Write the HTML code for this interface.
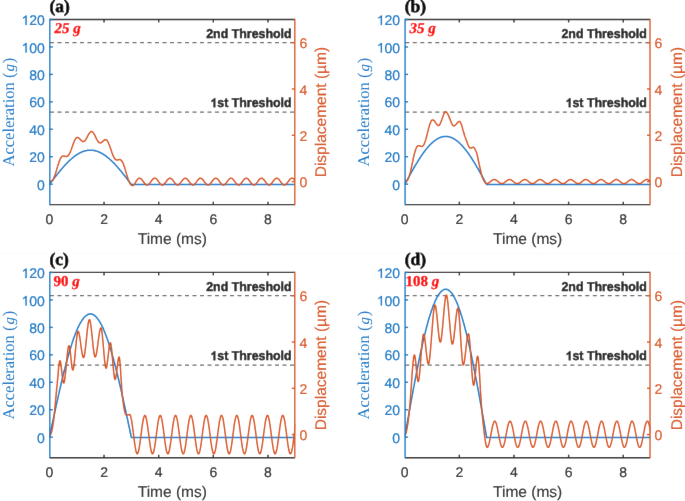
<!DOCTYPE html>
<html><head><meta charset="utf-8"><style>
html,body{margin:0;padding:0;background:#fff;}
svg{display:block;will-change:transform;}
text{text-rendering:geometricPrecision;}
.tk{font-family:"Liberation Sans",sans-serif;font-size:14px;}
.xl{font-family:"Liberation Sans",sans-serif;font-size:15.5px;}
.yl{font-family:"Liberation Serif",serif;font-size:16.5px;}
.th{font-family:"Liberation Sans",sans-serif;font-size:12.4px;font-weight:bold;fill:#262626;}
.am{font-family:"Liberation Serif",serif;font-size:15px;font-weight:bold;fill:#ff0000;}
.pl{font-family:"Liberation Serif",serif;font-size:17.5px;font-weight:bold;fill:#000;}
</style></head><body>
<svg width="685" height="501" viewBox="0 0 685 501">
<defs><filter id="bl" x="0" y="0" width="100%" height="100%" filterUnits="userSpaceOnUse"><feConvolveMatrix order="3" kernelMatrix="0.0028 0.0470 0.0028 0.0470 0.8008 0.0470 0.0028 0.0470 0.0028" edgeMode="duplicate"/></filter></defs>
<g filter="url(#bl)">
<rect width="685" height="501" fill="#fff"/>
<line x1="0" y1="253.5" x2="685" y2="253.5" stroke="#fafafa" stroke-width="1"/>
<g>
<clipPath id="clip00"><rect x="49.4" y="19.5" width="245.87999999999997" height="185.25"/></clipPath>
<line x1="50.00" y1="42.66" x2="294.80" y2="42.66" stroke="#6b6b6b" stroke-width="1.2" stroke-dasharray="4.0 3.5"/>
<line x1="50.00" y1="112.12" x2="294.80" y2="112.12" stroke="#6b6b6b" stroke-width="1.2" stroke-dasharray="4.0 3.5"/>
<polyline clip-path="url(#clip00)" points="49.4,184.5 49.7,184.0 50.1,183.6 50.4,183.1 50.8,182.7 51.1,182.2 51.4,181.8 51.8,181.3 52.1,180.9 52.5,180.4 52.8,180.0 53.2,179.5 53.5,179.1 53.8,178.7 54.2,178.2 54.5,177.8 54.9,177.3 55.2,176.9 55.5,176.5 55.9,176.0 56.2,175.6 56.6,175.2 56.9,174.7 57.3,174.3 57.6,173.9 57.9,173.4 58.3,173.0 58.6,172.6 59.0,172.2 59.3,171.8 59.6,171.3 60.0,170.9 60.3,170.5 60.7,170.1 61.0,169.7 61.4,169.3 61.7,168.9 62.0,168.5 62.4,168.1 62.7,167.7 63.1,167.3 63.4,166.9 63.7,166.5 64.1,166.2 64.4,165.8 64.8,165.4 65.1,165.0 65.5,164.7 65.8,164.3 66.1,163.9 66.5,163.6 66.8,163.2 67.2,162.9 67.5,162.5 67.8,162.2 68.2,161.8 68.5,161.5 68.9,161.2 69.2,160.9 69.5,160.5 69.9,160.2 70.2,159.9 70.6,159.6 70.9,159.3 71.3,159.0 71.6,158.7 71.9,158.4 72.3,158.1 72.6,157.8 73.0,157.5 73.3,157.3 73.6,157.0 74.0,156.7 74.3,156.5 74.7,156.2 75.0,155.9 75.4,155.7 75.7,155.5 76.0,155.2 76.4,155.0 76.7,154.8 77.1,154.5 77.4,154.3 77.7,154.1 78.1,153.9 78.4,153.7 78.8,153.5 79.1,153.3 79.5,153.1 79.8,152.9 80.1,152.8 80.5,152.6 80.8,152.4 81.2,152.3 81.5,152.1 81.8,152.0 82.2,151.8 82.5,151.7 82.9,151.6 83.2,151.4 83.5,151.3 83.9,151.2 84.2,151.1 84.6,151.0 84.9,150.9 85.3,150.8 85.6,150.7 85.9,150.7 86.3,150.6 86.6,150.5 87.0,150.5 87.3,150.4 87.6,150.3 88.0,150.3 88.3,150.3 88.7,150.2 89.0,150.2 89.4,150.2 89.7,150.2 90.0,150.2 90.4,150.2 90.7,150.2 91.1,150.2 91.4,150.2 91.7,150.2 92.1,150.2 92.4,150.3 92.8,150.3 93.1,150.3 93.5,150.4 93.8,150.5 94.1,150.5 94.5,150.6 94.8,150.7 95.2,150.7 95.5,150.8 95.8,150.9 96.2,151.0 96.5,151.1 96.9,151.2 97.2,151.3 97.6,151.4 97.9,151.6 98.2,151.7 98.6,151.8 98.9,152.0 99.3,152.1 99.6,152.3 99.9,152.4 100.3,152.6 100.6,152.8 101.0,152.9 101.3,153.1 101.6,153.3 102.0,153.5 102.3,153.7 102.7,153.9 103.0,154.1 103.4,154.3 103.7,154.5 104.0,154.8 104.4,155.0 104.7,155.2 105.1,155.5 105.4,155.7 105.7,155.9 106.1,156.2 106.4,156.5 106.8,156.7 107.1,157.0 107.5,157.3 107.8,157.5 108.1,157.8 108.5,158.1 108.8,158.4 109.2,158.7 109.5,159.0 109.8,159.3 110.2,159.6 110.5,159.9 110.9,160.2 111.2,160.5 111.6,160.9 111.9,161.2 112.2,161.5 112.6,161.8 112.9,162.2 113.3,162.5 113.6,162.9 113.9,163.2 114.3,163.6 114.6,163.9 115.0,164.3 115.3,164.7 115.7,165.0 116.0,165.4 116.3,165.8 116.7,166.2 117.0,166.5 117.4,166.9 117.7,167.3 118.0,167.7 118.4,168.1 118.7,168.5 119.1,168.9 119.4,169.3 119.7,169.7 120.1,170.1 120.4,170.5 120.8,170.9 121.1,171.3 121.5,171.8 121.8,172.2 122.1,172.6 122.5,173.0 122.8,173.4 123.2,173.9 123.5,174.3 123.8,174.7 124.2,175.2 124.5,175.6 124.9,176.0 125.2,176.5 125.6,176.9 125.9,177.3 126.2,177.8 126.6,178.2 126.9,178.7 127.3,179.1 127.6,179.5 127.9,180.0 128.3,180.4 128.6,180.9 129.0,181.3 129.3,181.8 129.7,182.2 130.0,182.7 130.3,183.1 130.7,183.6 131.0,184.0 131.4,184.5 295.3,184.5" fill="none" stroke="#127DCA" stroke-width="1.55" stroke-linejoin="round"/>
<polyline clip-path="url(#clip00)" points="49.4,181.6 49.6,181.6 49.8,181.6 50.1,181.6 50.3,181.6 50.5,181.5 50.7,181.5 50.9,181.4 51.1,181.3 51.4,181.2 51.6,181.1 51.8,180.9 52.0,180.8 52.2,180.6 52.5,180.3 52.7,180.0 52.9,179.7 53.1,179.4 53.3,179.0 53.6,178.6 53.8,178.1 54.0,177.7 54.2,177.1 54.4,176.6 54.6,176.0 54.9,175.4 55.1,174.8 55.3,174.2 55.5,173.5 55.7,172.8 56.0,172.1 56.2,171.4 56.4,170.6 56.6,169.9 56.8,169.1 57.0,168.4 57.3,167.6 57.5,166.9 57.7,166.1 57.9,165.4 58.1,164.7 58.4,164.0 58.6,163.3 58.8,162.6 59.0,162.0 59.2,161.4 59.5,160.8 59.7,160.2 59.9,159.7 60.1,159.2 60.3,158.8 60.5,158.4 60.8,158.0 61.0,157.6 61.2,157.3 61.4,157.0 61.6,156.8 61.9,156.6 62.1,156.4 62.3,156.2 62.5,156.1 62.7,156.0 63.0,156.0 63.2,155.9 63.4,155.9 63.6,155.9 63.8,156.0 64.0,156.0 64.3,156.0 64.5,156.1 64.7,156.2 64.9,156.2 65.1,156.3 65.4,156.3 65.6,156.4 65.8,156.4 66.0,156.5 66.2,156.5 66.4,156.5 66.7,156.5 66.9,156.4 67.1,156.4 67.3,156.3 67.5,156.1 67.8,156.0 68.0,155.8 68.2,155.6 68.4,155.3 68.6,155.1 68.9,154.8 69.1,154.4 69.3,154.0 69.5,153.6 69.7,153.2 69.9,152.7 70.2,152.2 70.4,151.7 70.6,151.2 70.8,150.6 71.0,150.1 71.3,149.5 71.5,148.9 71.7,148.3 71.9,147.6 72.1,147.0 72.3,146.4 72.6,145.7 72.8,145.1 73.0,144.5 73.2,143.9 73.4,143.3 73.7,142.7 73.9,142.2 74.1,141.7 74.3,141.1 74.5,140.7 74.8,140.2 75.0,139.8 75.2,139.4 75.4,139.0 75.6,138.7 75.8,138.4 76.1,138.2 76.3,138.0 76.5,137.8 76.7,137.7 76.9,137.6 77.2,137.5 77.4,137.5 77.6,137.5 77.8,137.5 78.0,137.6 78.2,137.7 78.5,137.8 78.7,138.0 78.9,138.1 79.1,138.3 79.3,138.5 79.6,138.7 79.8,139.0 80.0,139.2 80.2,139.4 80.4,139.7 80.7,139.9 80.9,140.1 81.1,140.4 81.3,140.6 81.5,140.8 81.7,140.9 82.0,141.1 82.2,141.3 82.4,141.4 82.6,141.5 82.8,141.5 83.1,141.6 83.3,141.6 83.5,141.6 83.7,141.5 83.9,141.4 84.2,141.3 84.4,141.2 84.6,141.0 84.8,140.8 85.0,140.6 85.2,140.3 85.5,140.0 85.7,139.7 85.9,139.4 86.1,139.0 86.3,138.6 86.6,138.2 86.8,137.8 87.0,137.4 87.2,137.0 87.4,136.6 87.6,136.2 87.9,135.7 88.1,135.3 88.3,134.9 88.5,134.5 88.7,134.1 89.0,133.8 89.2,133.4 89.4,133.1 89.6,132.8 89.8,132.5 90.1,132.3 90.3,132.1 90.5,131.9 90.7,131.7 90.9,131.6 91.1,131.5 91.4,131.5 91.6,131.5 91.8,131.5 92.0,131.6 92.2,131.7 92.5,131.9 92.7,132.1 92.9,132.3 93.1,132.5 93.3,132.8 93.5,133.1 93.8,133.5 94.0,133.8 94.2,134.2 94.4,134.6 94.6,135.0 94.9,135.5 95.1,135.9 95.3,136.4 95.5,136.8 95.7,137.3 96.0,137.7 96.2,138.2 96.4,138.6 96.6,139.1 96.8,139.5 97.0,139.9 97.3,140.3 97.5,140.7 97.7,141.0 97.9,141.3 98.1,141.6 98.4,141.9 98.6,142.1 98.8,142.3 99.0,142.5 99.2,142.7 99.5,142.8 99.7,142.8 99.9,142.9 100.1,142.9 100.3,142.9 100.5,142.9 100.8,142.8 101.0,142.7 101.2,142.6 101.4,142.5 101.6,142.3 101.9,142.2 102.1,142.0 102.3,141.8 102.5,141.6 102.7,141.4 102.9,141.2 103.2,141.0 103.4,140.8 103.6,140.6 103.8,140.4 104.0,140.2 104.3,140.1 104.5,140.0 104.7,139.8 104.9,139.8 105.1,139.7 105.4,139.7 105.6,139.6 105.8,139.7 106.0,139.7 106.2,139.8 106.4,140.0 106.7,140.1 106.9,140.3 107.1,140.6 107.3,140.8 107.5,141.2 107.8,141.5 108.0,141.9 108.2,142.3 108.4,142.8 108.6,143.2 108.8,143.8 109.1,144.3 109.3,144.8 109.5,145.4 109.7,146.0 109.9,146.6 110.2,147.3 110.4,147.9 110.6,148.6 110.8,149.2 111.0,149.9 111.3,150.5 111.5,151.2 111.7,151.8 111.9,152.5 112.1,153.1 112.3,153.7 112.6,154.3 112.8,154.8 113.0,155.3 113.2,155.9 113.4,156.3 113.7,156.8 113.9,157.2 114.1,157.6 114.3,158.0 114.5,158.3 114.7,158.6 115.0,158.9 115.2,159.1 115.4,159.3 115.6,159.5 115.8,159.6 116.1,159.8 116.3,159.8 116.5,159.9 116.7,159.9 116.9,160.0 117.2,160.0 117.4,160.0 117.6,159.9 117.8,159.9 118.0,159.9 118.2,159.8 118.5,159.8 118.7,159.7 118.9,159.7 119.1,159.6 119.3,159.6 119.6,159.6 119.8,159.6 120.0,159.7 120.2,159.7 120.4,159.8 120.7,159.9 120.9,160.0 121.1,160.2 121.3,160.4 121.5,160.6 121.7,160.9 122.0,161.2 122.2,161.5 122.4,161.9 122.6,162.3 122.8,162.7 123.1,163.2 123.3,163.7 123.5,164.2 123.7,164.8 123.9,165.4 124.1,166.0 124.4,166.7 124.6,167.3 124.8,168.0 125.0,168.8 125.2,169.5 125.5,170.2 125.7,171.0 125.9,171.7 126.1,172.5 126.3,173.2 126.6,174.0 126.8,174.8 127.0,175.5 127.2,176.2 127.4,176.9 127.6,177.6 127.9,178.3 128.1,179.0 128.3,179.6 128.5,180.2 128.7,180.8 129.0,181.3 129.2,181.8 129.4,182.3 129.6,182.8 129.8,183.2 130.0,183.6 130.3,183.9 130.5,184.2 130.7,184.5 130.9,184.8 131.1,185.0 131.4,185.2 131.6,185.3 131.8,185.4 132.0,185.5 132.2,185.6 132.5,185.6 132.7,185.6 132.9,185.5 133.1,185.4 133.3,185.3 133.5,185.1 133.8,184.9 134.0,184.7 134.2,184.4 134.4,184.1 134.6,183.8 134.9,183.5 135.1,183.1 135.3,182.8 135.5,182.4 135.7,182.0 135.9,181.7 136.2,181.3 136.4,181.0 136.6,180.6 136.8,180.3 137.0,180.0 137.3,179.7 137.5,179.4 137.7,179.1 137.9,178.9 138.1,178.7 138.4,178.6 138.6,178.4 138.8,178.3 139.0,178.3 139.2,178.2 139.4,178.2 139.7,178.2 139.9,178.2 140.1,178.3 140.3,178.4 140.5,178.5 140.8,178.6 141.0,178.8 141.2,179.0 141.4,179.2 141.6,179.4 141.9,179.7 142.1,179.9 142.3,180.2 142.5,180.5 142.7,180.8 142.9,181.1 143.2,181.4 143.4,181.7 143.6,182.0 143.8,182.3 144.0,182.6 144.3,182.9 144.5,183.2 144.7,183.4 144.9,183.7 145.1,183.9 145.3,184.1 145.6,184.3 145.8,184.5 146.0,184.6 146.2,184.8 146.4,184.9 146.7,184.9 146.9,185.0 147.1,185.0 147.3,185.0 147.5,184.9 147.8,184.9 148.0,184.8 148.2,184.7 148.4,184.5 148.6,184.4 148.8,184.2 149.1,184.0 149.3,183.7 149.5,183.5 149.7,183.2 149.9,183.0 150.2,182.7 150.4,182.4 150.6,182.1 150.8,181.8 151.0,181.5 151.2,181.2 151.5,180.9 151.7,180.6 151.9,180.3 152.1,180.0 152.3,179.7 152.6,179.5 152.8,179.3 153.0,179.0 153.2,178.9 153.4,178.7 153.7,178.5 153.9,178.4 154.1,178.3 154.3,178.2 154.5,178.2 154.7,178.2 155.0,178.2 155.2,178.2 155.4,178.3 155.6,178.4 155.8,178.5 156.1,178.7 156.3,178.8 156.5,179.0 156.7,179.2 156.9,179.5 157.2,179.7 157.4,180.0 157.6,180.3 157.8,180.6 158.0,180.8 158.2,181.1 158.5,181.5 158.7,181.8 158.9,182.1 159.1,182.4 159.3,182.7 159.6,182.9 159.8,183.2 160.0,183.5 160.2,183.7 160.4,184.0 160.6,184.2 160.9,184.4 161.1,184.5 161.3,184.7 161.5,184.8 161.7,184.9 162.0,184.9 162.2,185.0 162.4,185.0 162.6,185.0 162.8,184.9 163.1,184.9 163.3,184.8 163.5,184.6 163.7,184.5 163.9,184.3 164.1,184.1 164.4,183.9 164.6,183.7 164.8,183.4 165.0,183.2 165.2,182.9 165.5,182.6 165.7,182.3 165.9,182.0 166.1,181.7 166.3,181.4 166.5,181.1 166.8,180.8 167.0,180.5 167.2,180.2 167.4,179.9 167.6,179.7 167.9,179.4 168.1,179.2 168.3,179.0 168.5,178.8 168.7,178.6 169.0,178.5 169.2,178.4 169.4,178.3 169.6,178.2 169.8,178.2 170.0,178.2 170.3,178.2 170.5,178.3 170.7,178.3 170.9,178.4 171.1,178.6 171.4,178.7 171.6,178.9 171.8,179.1 172.0,179.3 172.2,179.5 172.4,179.8 172.7,180.0 172.9,180.3 173.1,180.6 173.3,180.9 173.5,181.2 173.8,181.5 174.0,181.8 174.2,182.1 174.4,182.4 174.6,182.7 174.9,183.0 175.1,183.3 175.3,183.5 175.5,183.8 175.7,184.0 175.9,184.2 176.2,184.4 176.4,184.6 176.6,184.7 176.8,184.8 177.0,184.9 177.3,185.0 177.5,185.0 177.7,185.0 177.9,185.0 178.1,184.9 178.4,184.8 178.6,184.7 178.8,184.6 179.0,184.5 179.2,184.3 179.4,184.1 179.7,183.9 179.9,183.6 180.1,183.4 180.3,183.1 180.5,182.8 180.8,182.5 181.0,182.2 181.2,181.9 181.4,181.6 181.6,181.3 181.8,181.0 182.1,180.7 182.3,180.4 182.5,180.1 182.7,179.9 182.9,179.6 183.2,179.4 183.4,179.2 183.6,179.0 183.8,178.8 184.0,178.6 184.3,178.5 184.5,178.4 184.7,178.3 184.9,178.2 185.1,178.2 185.3,178.2 185.6,178.2 185.8,178.3 186.0,178.4 186.2,178.5 186.4,178.6 186.7,178.7 186.9,178.9 187.1,179.1 187.3,179.3 187.5,179.6 187.7,179.8 188.0,180.1 188.2,180.4 188.4,180.7 188.6,181.0 188.8,181.3 189.1,181.6 189.3,181.9 189.5,182.2 189.7,182.5 189.9,182.8 190.2,183.1 190.4,183.3 190.6,183.6 190.8,183.8 191.0,184.1 191.2,184.3 191.5,184.4 191.7,184.6 191.9,184.7 192.1,184.8 192.3,184.9 192.6,185.0 192.8,185.0 193.0,185.0 193.2,185.0 193.4,184.9 193.6,184.8 193.9,184.7 194.1,184.6 194.3,184.4 194.5,184.2 194.7,184.0 195.0,183.8 195.2,183.6 195.4,183.3 195.6,183.0 195.8,182.8 196.1,182.5 196.3,182.2 196.5,181.9 196.7,181.6 196.9,181.3 197.1,181.0 197.4,180.7 197.6,180.4 197.8,180.1 198.0,179.8 198.2,179.6 198.5,179.3 198.7,179.1 198.9,178.9 199.1,178.7 199.3,178.6 199.6,178.5 199.8,178.3 200.0,178.3 200.2,178.2 200.4,178.2 200.6,178.2 200.9,178.2 201.1,178.3 201.3,178.4 201.5,178.5 201.7,178.6 202.0,178.8 202.2,179.0 202.4,179.2 202.6,179.4 202.8,179.6 203.0,179.9 203.3,180.2 203.5,180.5 203.7,180.7 203.9,181.0 204.1,181.4 204.4,181.7 204.6,182.0 204.8,182.3 205.0,182.6 205.2,182.9 205.5,183.1 205.7,183.4 205.9,183.7 206.1,183.9 206.3,184.1 206.5,184.3 206.8,184.5 207.0,184.6 207.2,184.7 207.4,184.9 207.6,184.9 207.9,185.0 208.1,185.0 208.3,185.0 208.5,185.0 208.7,184.9 208.9,184.8 209.2,184.7 209.4,184.5 209.6,184.4 209.8,184.2 210.0,184.0 210.3,183.8 210.5,183.5 210.7,183.3 210.9,183.0 211.1,182.7 211.4,182.4 211.6,182.1 211.8,181.8 212.0,181.5 212.2,181.2 212.4,180.9 212.7,180.6 212.9,180.3 213.1,180.0 213.3,179.8 213.5,179.5 213.8,179.3 214.0,179.1 214.2,178.9 214.4,178.7 214.6,178.5 214.8,178.4 215.1,178.3 215.3,178.3 215.5,178.2 215.7,178.2 215.9,178.2 216.2,178.2 216.4,178.3 216.6,178.4 216.8,178.5 217.0,178.7 217.3,178.8 217.5,179.0 217.7,179.2 217.9,179.5 218.1,179.7 218.3,180.0 218.6,180.2 218.8,180.5 219.0,180.8 219.2,181.1 219.4,181.4 219.7,181.7 219.9,182.0 220.1,182.3 220.3,182.6 220.5,182.9 220.8,183.2 221.0,183.5 221.2,183.7 221.4,183.9 221.6,184.1 221.8,184.3 222.1,184.5 222.3,184.7 222.5,184.8 222.7,184.9 222.9,184.9 223.2,185.0 223.4,185.0 223.6,185.0 223.8,184.9 224.0,184.9 224.2,184.8 224.5,184.7 224.7,184.5 224.9,184.3 225.1,184.2 225.3,183.9 225.6,183.7 225.8,183.5 226.0,183.2 226.2,182.9 226.4,182.6 226.7,182.3 226.9,182.0 227.1,181.7 227.3,181.4 227.5,181.1 227.7,180.8 228.0,180.5 228.2,180.2 228.4,180.0 228.6,179.7 228.8,179.5 229.1,179.2 229.3,179.0 229.5,178.8 229.7,178.7 229.9,178.5 230.1,178.4 230.4,178.3 230.6,178.2 230.8,178.2 231.0,178.2 231.2,178.2 231.5,178.3 231.7,178.3 231.9,178.4 232.1,178.5 232.3,178.7 232.6,178.9 232.8,179.1 233.0,179.3 233.2,179.5 233.4,179.8 233.6,180.0 233.9,180.3 234.1,180.6 234.3,180.9 234.5,181.2 234.7,181.5 235.0,181.8 235.2,182.1 235.4,182.4 235.6,182.7 235.8,183.0 236.1,183.3 236.3,183.5 236.5,183.8 236.7,184.0 236.9,184.2 237.1,184.4 237.4,184.5 237.6,184.7 237.8,184.8 238.0,184.9 238.2,185.0 238.5,185.0 238.7,185.0 238.9,185.0 239.1,184.9 239.3,184.9 239.5,184.8 239.8,184.6 240.0,184.5 240.2,184.3 240.4,184.1 240.6,183.9 240.9,183.7 241.1,183.4 241.3,183.1 241.5,182.9 241.7,182.6 242.0,182.3 242.2,182.0 242.4,181.7 242.6,181.4 242.8,181.1 243.0,180.8 243.3,180.5 243.5,180.2 243.7,179.9 243.9,179.6 244.1,179.4 244.4,179.2 244.6,179.0 244.8,178.8 245.0,178.6 245.2,178.5 245.4,178.4 245.7,178.3 245.9,178.2 246.1,178.2 246.3,178.2 246.5,178.2 246.8,178.3 247.0,178.3 247.2,178.4 247.4,178.6 247.6,178.7 247.9,178.9 248.1,179.1 248.3,179.3 248.5,179.6 248.7,179.8 248.9,180.1 249.2,180.4 249.4,180.7 249.6,181.0 249.8,181.3 250.0,181.6 250.3,181.9 250.5,182.2 250.7,182.5 250.9,182.8 251.1,183.0 251.3,183.3 251.6,183.6 251.8,183.8 252.0,184.0 252.2,184.2 252.4,184.4 252.7,184.6 252.9,184.7 253.1,184.8 253.3,184.9 253.5,185.0 253.8,185.0 254.0,185.0 254.2,185.0 254.4,184.9 254.6,184.8 254.8,184.7 255.1,184.6 255.3,184.4 255.5,184.3 255.7,184.1 255.9,183.8 256.2,183.6 256.4,183.3 256.6,183.1 256.8,182.8 257.0,182.5 257.3,182.2 257.5,181.9 257.7,181.6 257.9,181.3 258.1,181.0 258.3,180.7 258.6,180.4 258.8,180.1 259.0,179.8 259.2,179.6 259.4,179.4 259.7,179.1 259.9,178.9 260.1,178.8 260.3,178.6 260.5,178.5 260.7,178.4 261.0,178.3 261.2,178.2 261.4,178.2 261.6,178.2 261.8,178.2 262.1,178.3 262.3,178.4 262.5,178.5 262.7,178.6 262.9,178.8 263.2,179.0 263.4,179.2 263.6,179.4 263.8,179.6 264.0,179.9 264.2,180.1 264.5,180.4 264.7,180.7 264.9,181.0 265.1,181.3 265.3,181.6 265.6,181.9 265.8,182.2 266.0,182.5 266.2,182.8 266.4,183.1 266.6,183.4 266.9,183.6 267.1,183.9 267.3,184.1 267.5,184.3 267.7,184.5 268.0,184.6 268.2,184.7 268.4,184.8 268.6,184.9 268.8,185.0 269.1,185.0 269.3,185.0 269.5,185.0 269.7,184.9 269.9,184.8 270.1,184.7 270.4,184.6 270.6,184.4 270.8,184.2 271.0,184.0 271.2,183.8 271.5,183.5 271.7,183.3 271.9,183.0 272.1,182.7 272.3,182.4 272.5,182.1 272.8,181.8 273.0,181.5 273.2,181.2 273.4,180.9 273.6,180.6 273.9,180.3 274.1,180.1 274.3,179.8 274.5,179.5 274.7,179.3 275.0,179.1 275.2,178.9 275.4,178.7 275.6,178.6 275.8,178.4 276.0,178.3 276.3,178.3 276.5,178.2 276.7,178.2 276.9,178.2 277.1,178.2 277.4,178.3 277.6,178.4 277.8,178.5 278.0,178.6 278.2,178.8 278.5,179.0 278.7,179.2 278.9,179.4 279.1,179.7 279.3,179.9 279.5,180.2 279.8,180.5 280.0,180.8 280.2,181.1 280.4,181.4 280.6,181.7 280.9,182.0 281.1,182.3 281.3,182.6 281.5,182.9 281.7,183.2 281.9,183.4 282.2,183.7 282.4,183.9 282.6,184.1 282.8,184.3 283.0,184.5 283.3,184.6 283.5,184.8 283.7,184.9 283.9,184.9 284.1,185.0 284.4,185.0 284.6,185.0 284.8,184.9 285.0,184.9 285.2,184.8 285.4,184.7 285.7,184.5 285.9,184.4 286.1,184.2 286.3,184.0 286.5,183.7 286.8,183.5 287.0,183.2 287.2,182.9 287.4,182.7 287.6,182.4 287.8,182.1 288.1,181.8 288.3,181.5 288.5,181.2 288.7,180.8 288.9,180.6 289.2,180.3 289.4,180.0 289.6,179.7 289.8,179.5 290.0,179.2 290.3,179.0 290.5,178.8 290.7,178.7 290.9,178.5 291.1,178.4 291.3,178.3 291.6,178.2 291.8,178.2 292.0,178.2 292.2,178.2 292.4,178.2 292.7,178.3 292.9,178.4 293.1,178.5 293.3,178.7 293.5,178.8 293.8,179.0 294.0,179.3 294.2,179.5 294.4,179.7 294.6,180.0 294.8,180.3 295.1,180.6 295.3,180.9" fill="none" stroke="#D95319" stroke-width="1.5" stroke-linejoin="round"/>
<line x1="49.8" y1="19.45" x2="294.8" y2="19.45" stroke="#262626" stroke-width="1.35"/>
<line x1="49.8" y1="204.65" x2="294.8" y2="204.65" stroke="#262626" stroke-width="1.35"/>
<line x1="49.8" y1="18.849999999999998" x2="49.8" y2="205.25" stroke="#0676C4" stroke-width="1.35"/>
<line x1="294.8" y1="18.849999999999998" x2="294.8" y2="205.25" stroke="#D95319" stroke-width="1.35"/>
<text transform="translate(49.40,224.00)" class="tk" text-anchor="middle" fill="#262626" stroke="#262626" stroke-width="0.2">0</text>
<line x1="104.04" y1="204.65" x2="104.04" y2="201.65" stroke="#262626" stroke-width="1.4"/>
<line x1="104.04" y1="19.45" x2="104.04" y2="22.45" stroke="#262626" stroke-width="1.4"/>
<text transform="translate(104.04,224.00)" class="tk" text-anchor="middle" fill="#262626" stroke="#262626" stroke-width="0.2">2</text>
<line x1="158.68" y1="204.65" x2="158.68" y2="201.65" stroke="#262626" stroke-width="1.4"/>
<line x1="158.68" y1="19.45" x2="158.68" y2="22.45" stroke="#262626" stroke-width="1.4"/>
<text transform="translate(158.68,224.00)" class="tk" text-anchor="middle" fill="#262626" stroke="#262626" stroke-width="0.2">4</text>
<line x1="213.32" y1="204.65" x2="213.32" y2="201.65" stroke="#262626" stroke-width="1.4"/>
<line x1="213.32" y1="19.45" x2="213.32" y2="22.45" stroke="#262626" stroke-width="1.4"/>
<text transform="translate(213.32,224.00)" class="tk" text-anchor="middle" fill="#262626" stroke="#262626" stroke-width="0.2">6</text>
<line x1="267.96" y1="204.65" x2="267.96" y2="201.65" stroke="#262626" stroke-width="1.4"/>
<line x1="267.96" y1="19.45" x2="267.96" y2="22.45" stroke="#262626" stroke-width="1.4"/>
<text transform="translate(267.96,224.00)" class="tk" text-anchor="middle" fill="#262626" stroke="#262626" stroke-width="0.2">8</text>
<line x1="49.8" y1="184.17" x2="52.8" y2="184.17" stroke="#0676C4" stroke-width="1.4"/>
<text transform="translate(44.80,189.77)" class="tk" text-anchor="end" fill="#0676C4" stroke="#0676C4" stroke-width="0.2">0</text>
<line x1="49.8" y1="156.72" x2="52.8" y2="156.72" stroke="#0676C4" stroke-width="1.4"/>
<text transform="translate(44.80,162.32)" class="tk" text-anchor="end" fill="#0676C4" stroke="#0676C4" stroke-width="0.2">20</text>
<line x1="49.8" y1="129.28" x2="52.8" y2="129.28" stroke="#0676C4" stroke-width="1.4"/>
<text transform="translate(44.80,134.88)" class="tk" text-anchor="end" fill="#0676C4" stroke="#0676C4" stroke-width="0.2">40</text>
<line x1="49.8" y1="101.83" x2="52.8" y2="101.83" stroke="#0676C4" stroke-width="1.4"/>
<text transform="translate(44.80,107.43)" class="tk" text-anchor="end" fill="#0676C4" stroke="#0676C4" stroke-width="0.2">60</text>
<line x1="49.8" y1="74.39" x2="52.8" y2="74.39" stroke="#0676C4" stroke-width="1.4"/>
<text transform="translate(44.80,79.99)" class="tk" text-anchor="end" fill="#0676C4" stroke="#0676C4" stroke-width="0.2">80</text>
<line x1="49.8" y1="46.94" x2="52.8" y2="46.94" stroke="#0676C4" stroke-width="1.4"/>
<text transform="translate(44.80,52.54)" class="tk" text-anchor="end" fill="#0676C4" stroke="#0676C4" stroke-width="0.2">&#x2007;00</text><path transform="translate(21.46,52.54) scale(0.00684,-0.00684)" d="M583,0L583,1147Q518,1085 412,1023Q306,961 223,930L223,1104Q373,1175 485,1276Q597,1377 644,1409L763,1409L763,0Z" fill="#0676C4" stroke="#0676C4" stroke-width="29.3"/>
<line x1="49.8" y1="19.50" x2="52.8" y2="19.50" stroke="#0676C4" stroke-width="1.4"/>
<text transform="translate(44.80,25.10)" class="tk" text-anchor="end" fill="#0676C4" stroke="#0676C4" stroke-width="0.2">&#x2007;20</text><path transform="translate(21.46,25.10) scale(0.00684,-0.00684)" d="M583,0L583,1147Q518,1085 412,1023Q306,961 223,930L223,1104Q373,1175 485,1276Q597,1377 644,1409L763,1409L763,0Z" fill="#0676C4" stroke="#0676C4" stroke-width="29.3"/>
<line x1="294.8" y1="181.59" x2="291.8" y2="181.59" stroke="#D95319" stroke-width="1.4"/>
<text transform="translate(299.40,187.19)" class="tk" fill="#D95319" stroke="#D95319" stroke-width="0.2">0</text>
<line x1="294.8" y1="135.28" x2="291.8" y2="135.28" stroke="#D95319" stroke-width="1.4"/>
<text transform="translate(299.40,140.88)" class="tk" fill="#D95319" stroke="#D95319" stroke-width="0.2">2</text>
<line x1="294.8" y1="88.97" x2="291.8" y2="88.97" stroke="#D95319" stroke-width="1.4"/>
<text transform="translate(299.40,94.57)" class="tk" fill="#D95319" stroke="#D95319" stroke-width="0.2">4</text>
<line x1="294.8" y1="42.66" x2="291.8" y2="42.66" stroke="#D95319" stroke-width="1.4"/>
<text transform="translate(299.40,48.26)" class="tk" fill="#D95319" stroke="#D95319" stroke-width="0.2">6</text>
<text transform="translate(172.34,243.90)" class="xl" text-anchor="middle" fill="#262626" stroke="#262626" stroke-width="0.15">Time (ms)</text>
<text transform="translate(13.80,112.12) rotate(-90)" class="yl" text-anchor="middle" fill="#0676C4">Acceleration (<tspan font-style="italic" font-size="15px" dx="1.0">g</tspan><tspan dx="0.9">)</tspan></text>
<text transform="translate(326.30,112.12) rotate(-90)" class="xl" text-anchor="middle" fill="#D95319" stroke="#D95319" stroke-width="0.15">Displacement (µm)</text>
<text transform="translate(291.60,37.76) scale(1,1.04)" class="th" text-anchor="end" stroke="#262626" stroke-width="0.45">2nd Threshold</text>
<text transform="translate(291.60,107.17) scale(1,1.04)" class="th" text-anchor="end" stroke="#262626" stroke-width="0.45">&#x2007;st Threshold</text><path transform="translate(210.40,107.17) scale(0.00605,-0.00630)" d="M530,0L530,1010Q400,880 190,810L190,1060Q300,1100 430,1200Q560,1300 610,1409L800,1409L800,0Z" fill="#262626" stroke="#262626" stroke-width="74.3"/>
<text transform="translate(54.50,33.30)" class="am" stroke="#ff0000" stroke-width="0.35"><tspan font-style="italic">25 g</tspan></text>
<text transform="translate(49.40,12.20)" class="pl" stroke="#000" stroke-width="0.6">(a)</text>
</g>
<g>
<clipPath id="clip10"><rect x="404.7" y="19.5" width="245.88000000000005" height="185.25"/></clipPath>
<line x1="405.30" y1="42.66" x2="650.00" y2="42.66" stroke="#6b6b6b" stroke-width="1.2" stroke-dasharray="4.0 3.5"/>
<line x1="405.30" y1="112.12" x2="650.00" y2="112.12" stroke="#6b6b6b" stroke-width="1.2" stroke-dasharray="4.0 3.5"/>
<polyline clip-path="url(#clip10)" points="404.7,184.5 405.0,183.8 405.4,183.2 405.7,182.6 406.1,182.0 406.4,181.3 406.7,180.7 407.1,180.1 407.4,179.4 407.8,178.8 408.1,178.2 408.5,177.6 408.8,177.0 409.1,176.3 409.5,175.7 409.8,175.1 410.2,174.5 410.5,173.9 410.8,173.3 411.2,172.6 411.5,172.0 411.9,171.4 412.2,170.8 412.6,170.2 412.9,169.6 413.2,169.0 413.6,168.4 413.9,167.8 414.3,167.3 414.6,166.7 414.9,166.1 415.3,165.5 415.6,164.9 416.0,164.4 416.3,163.8 416.7,163.2 417.0,162.7 417.3,162.1 417.7,161.5 418.0,161.0 418.4,160.5 418.7,159.9 419.0,159.4 419.4,158.8 419.7,158.3 420.1,157.8 420.4,157.3 420.8,156.7 421.1,156.2 421.4,155.7 421.8,155.2 422.1,154.7 422.5,154.2 422.8,153.8 423.1,153.3 423.5,152.8 423.8,152.3 424.2,151.9 424.5,151.4 424.8,151.0 425.2,150.5 425.5,150.1 425.9,149.6 426.2,149.2 426.6,148.8 426.9,148.4 427.2,147.9 427.6,147.5 427.9,147.1 428.3,146.7 428.6,146.4 428.9,146.0 429.3,145.6 429.6,145.2 430.0,144.9 430.3,144.5 430.7,144.2 431.0,143.8 431.3,143.5 431.7,143.2 432.0,142.9 432.4,142.6 432.7,142.3 433.0,142.0 433.4,141.7 433.7,141.4 434.1,141.1 434.4,140.9 434.8,140.6 435.1,140.3 435.4,140.1 435.8,139.9 436.1,139.6 436.5,139.4 436.8,139.2 437.1,139.0 437.5,138.8 437.8,138.6 438.2,138.4 438.5,138.2 438.9,138.1 439.2,137.9 439.5,137.8 439.9,137.6 440.2,137.5 440.6,137.4 440.9,137.2 441.2,137.1 441.6,137.0 441.9,136.9 442.3,136.8 442.6,136.8 442.9,136.7 443.3,136.6 443.6,136.6 444.0,136.5 444.3,136.5 444.7,136.5 445.0,136.5 445.3,136.4 445.7,136.4 446.0,136.4 446.4,136.5 446.7,136.5 447.0,136.5 447.4,136.5 447.7,136.6 448.1,136.6 448.4,136.7 448.8,136.8 449.1,136.8 449.4,136.9 449.8,137.0 450.1,137.1 450.5,137.2 450.8,137.4 451.1,137.5 451.5,137.6 451.8,137.8 452.2,137.9 452.5,138.1 452.9,138.2 453.2,138.4 453.5,138.6 453.9,138.8 454.2,139.0 454.6,139.2 454.9,139.4 455.2,139.6 455.6,139.9 455.9,140.1 456.3,140.3 456.6,140.6 456.9,140.9 457.3,141.1 457.6,141.4 458.0,141.7 458.3,142.0 458.7,142.3 459.0,142.6 459.3,142.9 459.7,143.2 460.0,143.5 460.4,143.8 460.7,144.2 461.0,144.5 461.4,144.9 461.7,145.2 462.1,145.6 462.4,146.0 462.8,146.4 463.1,146.7 463.4,147.1 463.8,147.5 464.1,147.9 464.5,148.4 464.8,148.8 465.1,149.2 465.5,149.6 465.8,150.1 466.2,150.5 466.5,151.0 466.9,151.4 467.2,151.9 467.5,152.3 467.9,152.8 468.2,153.3 468.6,153.8 468.9,154.2 469.2,154.7 469.6,155.2 469.9,155.7 470.3,156.2 470.6,156.7 471.0,157.3 471.3,157.8 471.6,158.3 472.0,158.8 472.3,159.4 472.7,159.9 473.0,160.5 473.3,161.0 473.7,161.5 474.0,162.1 474.4,162.7 474.7,163.2 475.0,163.8 475.4,164.4 475.7,164.9 476.1,165.5 476.4,166.1 476.8,166.7 477.1,167.3 477.4,167.8 477.8,168.4 478.1,169.0 478.5,169.6 478.8,170.2 479.1,170.8 479.5,171.4 479.8,172.0 480.2,172.6 480.5,173.3 480.9,173.9 481.2,174.5 481.5,175.1 481.9,175.7 482.2,176.3 482.6,177.0 482.9,177.6 483.2,178.2 483.6,178.8 483.9,179.4 484.3,180.1 484.6,180.7 485.0,181.3 485.3,182.0 485.6,182.6 486.0,183.2 486.3,183.8 486.7,184.5 650.6,184.5" fill="none" stroke="#127DCA" stroke-width="1.55" stroke-linejoin="round"/>
<polyline clip-path="url(#clip10)" points="404.7,181.6 404.9,181.6 405.1,181.6 405.4,181.6 405.6,181.5 405.8,181.5 406.0,181.4 406.2,181.4 406.4,181.2 406.7,181.1 406.9,180.9 407.1,180.7 407.3,180.4 407.5,180.1 407.8,179.8 408.0,179.4 408.2,179.0 408.4,178.5 408.6,178.0 408.9,177.4 409.1,176.8 409.3,176.1 409.5,175.4 409.7,174.6 409.9,173.8 410.2,173.0 410.4,172.1 410.6,171.2 410.8,170.2 411.0,169.3 411.3,168.3 411.5,167.3 411.7,166.2 411.9,165.2 412.1,164.1 412.3,163.1 412.6,162.0 412.8,161.0 413.0,160.0 413.2,158.9 413.4,157.9 413.7,156.9 413.9,156.0 414.1,155.1 414.3,154.2 414.5,153.3 414.8,152.5 415.0,151.7 415.2,151.0 415.4,150.3 415.6,149.6 415.8,149.1 416.1,148.5 416.3,148.0 416.5,147.6 416.7,147.2 416.9,146.8 417.2,146.5 417.4,146.3 417.6,146.1 417.8,145.9 418.0,145.8 418.3,145.7 418.5,145.7 418.7,145.7 418.9,145.7 419.1,145.7 419.3,145.7 419.6,145.8 419.8,145.9 420.0,146.0 420.2,146.1 420.4,146.2 420.7,146.2 420.9,146.3 421.1,146.4 421.3,146.4 421.5,146.4 421.7,146.4 422.0,146.4 422.2,146.4 422.4,146.3 422.6,146.1 422.8,146.0 423.1,145.7 423.3,145.5 423.5,145.2 423.7,144.8 423.9,144.5 424.2,144.0 424.4,143.5 424.6,143.0 424.8,142.4 425.0,141.8 425.2,141.2 425.5,140.5 425.7,139.8 425.9,139.0 426.1,138.3 426.3,137.5 426.6,136.6 426.8,135.8 427.0,134.9 427.2,134.0 427.4,133.2 427.6,132.3 427.9,131.4 428.1,130.5 428.3,129.7 428.5,128.8 428.7,128.0 429.0,127.2 429.2,126.4 429.4,125.7 429.6,125.0 429.8,124.3 430.1,123.7 430.3,123.1 430.5,122.5 430.7,122.0 430.9,121.6 431.1,121.2 431.4,120.8 431.6,120.5 431.8,120.3 432.0,120.1 432.2,120.0 432.5,119.9 432.7,119.9 432.9,119.9 433.1,119.9 433.3,120.0 433.5,120.1 433.8,120.3 434.0,120.5 434.2,120.8 434.4,121.0 434.6,121.3 434.9,121.6 435.1,121.9 435.3,122.2 435.5,122.6 435.7,122.9 436.0,123.2 436.2,123.6 436.4,123.9 436.6,124.2 436.8,124.4 437.0,124.7 437.3,124.9 437.5,125.1 437.7,125.3 437.9,125.4 438.1,125.5 438.4,125.6 438.5,125.6 438.8,125.5 439.1,125.4 439.3,125.1 439.6,124.8 439.8,124.4 440.1,124.0 440.3,123.4 440.6,122.8 440.8,122.2 441.1,121.6 441.4,120.9 441.6,120.2 441.9,119.4 442.1,118.7 442.4,118.0 442.6,117.2 442.9,116.5 443.1,115.8 443.4,115.2 443.7,114.5 443.9,114.0 444.2,113.4 444.4,113.0 444.7,112.6 444.9,112.2 445.2,112.0 445.4,111.9 445.7,111.8 446.0,111.8 446.2,112.0 446.5,112.1 446.7,112.4 447.0,112.7 447.2,113.1 447.5,113.5 447.8,114.0 448.0,114.5 448.3,115.1 448.5,115.7 448.8,116.3 449.0,116.9 449.3,117.5 449.5,118.2 449.8,118.8 450.1,119.5 450.3,120.2 450.6,120.8 450.8,121.4 451.1,122.0 451.3,122.6 451.6,123.2 451.8,123.7 452.1,124.2 452.4,124.6 452.6,125.0 452.9,125.3 453.1,125.6 453.4,125.7 453.6,125.9 453.9,125.9 454.1,125.9 454.4,125.8 454.6,125.7 454.9,125.5 455.1,125.3 455.4,125.1 455.6,124.8 455.9,124.5 456.1,124.3 456.4,124.0 456.6,123.7 456.9,123.3 457.1,123.0 457.4,122.8 457.6,122.5 457.9,122.2 458.1,122.0 458.4,121.8 458.6,121.6 458.9,121.5 459.1,121.4 459.4,121.4 459.7,121.5 459.9,121.6 460.2,121.9 460.4,122.3 460.7,122.8 460.9,123.4 461.2,124.0 461.5,124.7 461.7,125.5 462.0,126.3 462.2,127.2 462.5,128.1 462.7,129.0 463.0,129.9 463.2,130.9 463.5,131.8 463.8,132.7 464.0,133.6 464.3,134.5 464.5,135.3 464.8,136.1 465.0,136.8 465.3,137.5 465.6,138.1 465.8,138.8 466.1,139.5 466.3,140.2 466.6,140.9 466.8,141.6 467.1,142.3 467.3,143.0 467.6,143.7 467.8,144.3 468.1,145.0 468.3,145.5 468.6,146.1 468.8,146.6 469.1,147.0 469.3,147.4 469.6,147.7 469.8,147.9 470.1,148.1 470.3,148.1 470.6,148.1 470.8,148.0 471.1,148.0 471.4,147.9 471.6,147.8 471.9,147.6 472.1,147.5 472.4,147.4 472.7,147.4 472.9,147.3 473.2,147.3 473.5,147.3 473.7,147.5 474.0,147.7 474.2,147.9 474.5,148.2 474.7,148.6 475.0,149.0 475.2,149.5 475.5,150.1 475.7,150.6 476.0,151.2 476.2,151.8 476.5,152.5 476.8,153.2 477.0,154.2 477.2,155.2 477.5,156.3 477.8,157.5 478.0,158.8 478.2,160.0 478.5,161.1 478.8,162.3 479.0,163.6 479.3,164.8 479.6,166.1 479.9,167.3 480.1,168.5 480.4,169.7 480.7,170.9 480.9,172.1 481.2,173.3 481.5,174.5 481.8,175.6 482.0,176.5 482.3,177.2 482.6,177.8 482.8,178.3 483.1,178.9 483.3,179.4 483.6,180.0 483.9,180.5 484.1,181.0 484.4,181.4 484.6,181.9 484.9,182.2 485.1,182.6 485.4,182.9 485.7,183.2 485.9,183.4 486.2,183.5 486.4,183.6 486.7,183.7 486.9,183.6 487.2,183.6 487.4,183.5 487.7,183.5 487.9,183.4 488.2,183.3 488.4,183.1 488.7,183.0 488.9,182.8 489.2,182.6 489.4,182.4 489.7,182.3 489.9,182.1 490.2,181.8 490.4,181.6 490.7,181.4 490.9,181.2 491.2,181.0 491.4,180.8 491.7,180.6 491.9,180.4 492.2,180.3 492.4,180.1 492.7,180.0 492.9,179.9 493.2,179.8 493.4,179.7 493.7,179.6 493.9,179.6 494.2,179.6 494.4,179.6 494.7,179.6 494.9,179.6 495.2,179.7 495.4,179.8 495.7,179.9 495.9,180.0 496.2,180.1 496.4,180.3 496.7,180.5 496.9,180.7 497.2,180.8 497.4,181.0 497.7,181.3 497.9,181.5 498.2,181.7 498.4,181.9 498.7,182.1 498.9,182.3 499.2,182.5 499.4,182.7 499.7,182.8 499.9,183.0 500.2,183.2 500.4,183.3 500.7,183.4 500.9,183.5 501.2,183.6 501.4,183.6 501.7,183.6 501.9,183.6 502.2,183.6 502.4,183.6 502.7,183.5 502.9,183.5 503.2,183.4 503.4,183.3 503.7,183.1 503.9,183.0 504.2,182.8 504.4,182.6 504.7,182.4 504.9,182.3 505.2,182.1 505.4,181.8 505.7,181.6 505.9,181.4 506.2,181.2 506.4,181.0 506.7,180.8 506.9,180.6 507.2,180.4 507.4,180.3 507.7,180.1 507.9,180.0 508.2,179.9 508.4,179.8 508.7,179.7 508.9,179.6 509.2,179.6 509.4,179.6 509.7,179.6 509.9,179.6 510.2,179.6 510.4,179.7 510.7,179.8 510.9,179.9 511.2,180.0 511.4,180.1 511.7,180.3 511.9,180.5 512.2,180.7 512.5,180.8 512.7,181.0 513.0,181.3 513.2,181.5 513.5,181.7 513.7,181.9 514.0,182.1 514.2,182.3 514.5,182.5 514.7,182.7 515.0,182.8 515.2,183.0 515.5,183.2 515.7,183.3 516.0,183.4 516.2,183.5 516.5,183.6 516.7,183.6 517.0,183.6 517.2,183.6 517.5,183.6 517.7,183.6 518.0,183.5 518.2,183.5 518.5,183.4 518.7,183.3 519.0,183.1 519.2,183.0 519.5,182.8 519.7,182.6 520.0,182.4 520.2,182.3 520.5,182.1 520.7,181.8 521.0,181.6 521.2,181.4 521.5,181.2 521.7,181.0 522.0,180.8 522.2,180.6 522.5,180.4 522.7,180.3 523.0,180.1 523.2,180.0 523.5,179.9 523.7,179.8 524.0,179.7 524.2,179.6 524.5,179.6 524.7,179.6 525.0,179.6 525.2,179.6 525.5,179.6 525.7,179.7 526.0,179.8 526.2,179.9 526.5,180.0 526.7,180.1 527.0,180.3 527.2,180.5 527.5,180.7 527.7,180.8 528.0,181.0 528.2,181.3 528.5,181.5 528.7,181.7 529.0,181.9 529.2,182.1 529.5,182.3 529.7,182.5 530.0,182.7 530.2,182.8 530.5,183.0 530.7,183.2 531.0,183.3 531.2,183.4 531.5,183.5 531.7,183.6 532.0,183.6 532.2,183.6 532.5,183.6 532.7,183.6 533.0,183.6 533.2,183.5 533.5,183.5 533.7,183.4 534.0,183.3 534.2,183.1 534.5,183.0 534.7,182.8 535.0,182.6 535.2,182.4 535.5,182.3 535.7,182.1 536.0,181.8 536.2,181.6 536.5,181.4 536.7,181.2 537.0,181.0 537.2,180.8 537.5,180.6 537.7,180.4 538.0,180.3 538.2,180.1 538.5,180.0 538.7,179.9 539.0,179.8 539.2,179.7 539.5,179.6 539.7,179.6 540.0,179.6 540.2,179.6 540.5,179.6 540.7,179.6 541.0,179.7 541.2,179.8 541.5,179.9 541.7,180.0 542.0,180.1 542.2,180.3 542.5,180.5 542.7,180.7 543.0,180.8 543.2,181.0 543.5,181.3 543.7,181.5 544.0,181.7 544.2,181.9 544.5,182.1 544.7,182.3 545.0,182.5 545.2,182.7 545.5,182.8 545.7,183.0 546.0,183.2 546.2,183.3 546.5,183.4 546.7,183.5 547.0,183.6 547.2,183.6 547.5,183.6 547.7,183.6 548.0,183.6 548.2,183.6 548.5,183.5 548.7,183.5 549.0,183.4 549.2,183.3 549.5,183.1 549.7,183.0 550.0,182.8 550.2,182.6 550.5,182.4 550.7,182.3 551.0,182.1 551.2,181.8 551.5,181.6 551.7,181.4 552.0,181.2 552.2,181.0 552.5,180.8 552.7,180.6 553.0,180.4 553.2,180.3 553.5,180.1 553.7,180.0 554.0,179.9 554.2,179.8 554.5,179.7 554.7,179.6 555.0,179.6 555.2,179.6 555.5,179.6 555.7,179.6 556.0,179.6 556.2,179.7 556.5,179.8 556.7,179.9 557.0,180.0 557.2,180.1 557.5,180.3 557.7,180.5 558.0,180.7 558.2,180.8 558.5,181.0 558.7,181.3 559.0,181.5 559.2,181.7 559.5,181.9 559.7,182.1 560.0,182.3 560.2,182.5 560.5,182.7 560.7,182.8 561.0,183.0 561.2,183.2 561.5,183.3 561.7,183.4 562.0,183.5 562.2,183.6 562.5,183.6 562.7,183.6 563.0,183.6 563.2,183.6 563.5,183.6 563.7,183.5 564.0,183.5 564.2,183.4 564.5,183.3 564.7,183.1 565.0,183.0 565.2,182.8 565.5,182.6 565.7,182.4 566.0,182.3 566.2,182.1 566.5,181.8 566.7,181.6 567.0,181.4 567.2,181.2 567.5,181.0 567.7,180.8 568.0,180.6 568.2,180.4 568.5,180.3 568.7,180.1 569.0,180.0 569.2,179.9 569.5,179.8 569.7,179.7 570.0,179.6 570.2,179.6 570.5,179.6 570.7,179.6 571.0,179.6 571.2,179.6 571.5,179.7 571.7,179.8 572.0,179.9 572.2,180.0 572.5,180.1 572.7,180.3 573.0,180.5 573.2,180.7 573.5,180.8 573.7,181.0 574.0,181.3 574.2,181.5 574.5,181.7 574.7,181.9 575.0,182.1 575.2,182.3 575.5,182.5 575.7,182.7 576.0,182.8 576.2,183.0 576.5,183.2 576.7,183.3 577.0,183.4 577.2,183.5 577.5,183.6 577.7,183.6 578.0,183.6 578.2,183.6 578.5,183.6 578.7,183.6 579.0,183.5 579.2,183.5 579.5,183.4 579.7,183.3 580.0,183.1 580.2,183.0 580.5,182.8 580.7,182.6 581.0,182.4 581.2,182.3 581.5,182.1 581.7,181.8 582.0,181.6 582.2,181.4 582.5,181.2 582.7,181.0 583.0,180.8 583.2,180.6 583.5,180.4 583.7,180.3 584.0,180.1 584.2,180.0 584.5,179.9 584.7,179.8 585.0,179.7 585.2,179.6 585.5,179.6 585.7,179.6 586.0,179.6 586.2,179.6 586.5,179.6 586.7,179.7 587.0,179.8 587.2,179.9 587.5,180.0 587.7,180.1 588.0,180.3 588.2,180.5 588.5,180.7 588.7,180.8 589.0,181.0 589.2,181.3 589.5,181.5 589.7,181.7 590.0,181.9 590.2,182.1 590.5,182.3 590.7,182.5 591.0,182.7 591.2,182.8 591.5,183.0 591.7,183.2 592.0,183.3 592.2,183.4 592.5,183.5 592.7,183.6 593.0,183.6 593.2,183.6 593.5,183.6 593.7,183.6 594.0,183.6 594.2,183.5 594.5,183.5 594.7,183.4 595.0,183.3 595.2,183.1 595.5,183.0 595.7,182.8 596.0,182.6 596.2,182.4 596.5,182.3 596.7,182.1 597.0,181.8 597.2,181.6 597.5,181.4 597.7,181.2 598.0,181.0 598.2,180.8 598.5,180.6 598.7,180.4 599.0,180.3 599.2,180.1 599.5,180.0 599.7,179.9 600.0,179.8 600.2,179.7 600.5,179.6 600.7,179.6 601.0,179.6 601.2,179.6 601.5,179.6 601.7,179.6 602.0,179.7 602.2,179.8 602.5,179.9 602.7,180.0 603.0,180.1 603.2,180.3 603.5,180.5 603.7,180.7 604.0,180.8 604.2,181.0 604.5,181.3 604.7,181.5 605.0,181.7 605.2,181.9 605.5,182.1 605.7,182.3 606.0,182.5 606.2,182.7 606.5,182.8 606.7,183.0 607.0,183.2 607.2,183.3 607.5,183.4 607.7,183.5 608.0,183.6 608.2,183.6 608.5,183.6 608.7,183.6 609.0,183.6 609.2,183.6 609.5,183.5 609.7,183.5 610.0,183.4 610.2,183.3 610.5,183.1 610.7,183.0 611.0,182.8 611.2,182.6 611.5,182.4 611.7,182.3 612.0,182.1 612.2,181.8 612.5,181.6 612.7,181.4 613.0,181.2 613.2,181.0 613.5,180.8 613.7,180.6 614.0,180.4 614.2,180.3 614.5,180.1 614.7,180.0 615.0,179.9 615.2,179.8 615.5,179.7 615.7,179.6 616.0,179.6 616.2,179.6 616.5,179.6 616.7,179.6 617.0,179.6 617.2,179.7 617.5,179.8 617.7,179.9 618.0,180.0 618.2,180.1 618.5,180.3 618.7,180.5 619.0,180.7 619.2,180.8 619.5,181.0 619.7,181.3 620.0,181.5 620.2,181.7 620.5,181.9 620.7,182.1 621.0,182.3 621.2,182.5 621.5,182.7 621.7,182.8 622.0,183.0 622.2,183.2 622.5,183.3 622.7,183.4 623.0,183.5 623.2,183.6 623.5,183.6 623.7,183.6 624.0,183.6 624.2,183.6 624.5,183.6 624.7,183.5 625.0,183.5 625.2,183.4 625.5,183.3 625.7,183.1 626.0,183.0 626.2,182.8 626.5,182.6 626.7,182.4 627.0,182.3 627.2,182.1 627.5,181.8 627.7,181.6 628.0,181.4 628.2,181.2 628.5,181.0 628.7,180.8 629.0,180.6 629.2,180.4 629.5,180.3 629.7,180.1 630.0,180.0 630.2,179.9 630.5,179.8 630.7,179.7 631.0,179.6 631.2,179.6 631.5,179.6 631.7,179.6 632.0,179.6 632.2,179.6 632.5,179.7 632.7,179.8 633.0,179.9 633.2,180.0 633.5,180.1 633.7,180.3 634.0,180.5 634.2,180.7 634.5,180.8 634.7,181.0 635.0,181.3 635.2,181.5 635.5,181.7 635.7,181.9 636.0,182.1 636.2,182.3 636.5,182.5 636.7,182.7 637.0,182.8 637.2,183.0 637.5,183.2 637.7,183.3 638.0,183.4 638.2,183.5 638.5,183.6 638.7,183.6 639.0,183.6 639.2,183.6 639.5,183.6 639.7,183.6 640.0,183.5 640.2,183.5 640.5,183.4 640.7,183.3 641.0,183.1 641.2,183.0 641.5,182.8 641.7,182.6 642.0,182.4 642.2,182.3 642.5,182.1 642.7,181.8 643.0,181.6 643.2,181.4 643.5,181.2 643.7,181.0 644.0,180.8 644.2,180.6 644.5,180.4 644.7,180.3 645.0,180.1 645.2,180.0 645.5,179.9 645.7,179.8 646.0,179.7 646.2,179.6 646.5,179.6 646.7,179.6 647.0,179.6 647.2,179.6 647.5,179.6 647.7,179.7 648.0,179.8 648.2,179.9 648.5,180.0 648.7,180.1 649.0,180.3 649.2,180.5 649.5,180.7 649.7,180.8 650.0,181.0 650.2,181.3 650.5,181.5 650.7,181.7 651.0,181.9 651.1,182.0" fill="none" stroke="#D95319" stroke-width="1.5" stroke-linejoin="round"/>
<line x1="405.1" y1="19.45" x2="650.0" y2="19.45" stroke="#262626" stroke-width="1.35"/>
<line x1="405.1" y1="204.65" x2="650.0" y2="204.65" stroke="#262626" stroke-width="1.35"/>
<line x1="405.1" y1="18.849999999999998" x2="405.1" y2="205.25" stroke="#0676C4" stroke-width="1.35"/>
<line x1="650.0" y1="18.849999999999998" x2="650.0" y2="205.25" stroke="#D95319" stroke-width="1.35"/>
<text transform="translate(404.70,224.00)" class="tk" text-anchor="middle" fill="#262626" stroke="#262626" stroke-width="0.2">0</text>
<line x1="459.34" y1="204.65" x2="459.34" y2="201.65" stroke="#262626" stroke-width="1.4"/>
<line x1="459.34" y1="19.45" x2="459.34" y2="22.45" stroke="#262626" stroke-width="1.4"/>
<text transform="translate(459.34,224.00)" class="tk" text-anchor="middle" fill="#262626" stroke="#262626" stroke-width="0.2">2</text>
<line x1="513.98" y1="204.65" x2="513.98" y2="201.65" stroke="#262626" stroke-width="1.4"/>
<line x1="513.98" y1="19.45" x2="513.98" y2="22.45" stroke="#262626" stroke-width="1.4"/>
<text transform="translate(513.98,224.00)" class="tk" text-anchor="middle" fill="#262626" stroke="#262626" stroke-width="0.2">4</text>
<line x1="568.62" y1="204.65" x2="568.62" y2="201.65" stroke="#262626" stroke-width="1.4"/>
<line x1="568.62" y1="19.45" x2="568.62" y2="22.45" stroke="#262626" stroke-width="1.4"/>
<text transform="translate(568.62,224.00)" class="tk" text-anchor="middle" fill="#262626" stroke="#262626" stroke-width="0.2">6</text>
<line x1="623.26" y1="204.65" x2="623.26" y2="201.65" stroke="#262626" stroke-width="1.4"/>
<line x1="623.26" y1="19.45" x2="623.26" y2="22.45" stroke="#262626" stroke-width="1.4"/>
<text transform="translate(623.26,224.00)" class="tk" text-anchor="middle" fill="#262626" stroke="#262626" stroke-width="0.2">8</text>
<line x1="405.1" y1="184.17" x2="408.1" y2="184.17" stroke="#0676C4" stroke-width="1.4"/>
<text transform="translate(400.10,189.77)" class="tk" text-anchor="end" fill="#0676C4" stroke="#0676C4" stroke-width="0.2">0</text>
<line x1="405.1" y1="156.72" x2="408.1" y2="156.72" stroke="#0676C4" stroke-width="1.4"/>
<text transform="translate(400.10,162.32)" class="tk" text-anchor="end" fill="#0676C4" stroke="#0676C4" stroke-width="0.2">20</text>
<line x1="405.1" y1="129.28" x2="408.1" y2="129.28" stroke="#0676C4" stroke-width="1.4"/>
<text transform="translate(400.10,134.88)" class="tk" text-anchor="end" fill="#0676C4" stroke="#0676C4" stroke-width="0.2">40</text>
<line x1="405.1" y1="101.83" x2="408.1" y2="101.83" stroke="#0676C4" stroke-width="1.4"/>
<text transform="translate(400.10,107.43)" class="tk" text-anchor="end" fill="#0676C4" stroke="#0676C4" stroke-width="0.2">60</text>
<line x1="405.1" y1="74.39" x2="408.1" y2="74.39" stroke="#0676C4" stroke-width="1.4"/>
<text transform="translate(400.10,79.99)" class="tk" text-anchor="end" fill="#0676C4" stroke="#0676C4" stroke-width="0.2">80</text>
<line x1="405.1" y1="46.94" x2="408.1" y2="46.94" stroke="#0676C4" stroke-width="1.4"/>
<text transform="translate(400.10,52.54)" class="tk" text-anchor="end" fill="#0676C4" stroke="#0676C4" stroke-width="0.2">&#x2007;00</text><path transform="translate(376.76,52.54) scale(0.00684,-0.00684)" d="M583,0L583,1147Q518,1085 412,1023Q306,961 223,930L223,1104Q373,1175 485,1276Q597,1377 644,1409L763,1409L763,0Z" fill="#0676C4" stroke="#0676C4" stroke-width="29.3"/>
<line x1="405.1" y1="19.50" x2="408.1" y2="19.50" stroke="#0676C4" stroke-width="1.4"/>
<text transform="translate(400.10,25.10)" class="tk" text-anchor="end" fill="#0676C4" stroke="#0676C4" stroke-width="0.2">&#x2007;20</text><path transform="translate(376.76,25.10) scale(0.00684,-0.00684)" d="M583,0L583,1147Q518,1085 412,1023Q306,961 223,930L223,1104Q373,1175 485,1276Q597,1377 644,1409L763,1409L763,0Z" fill="#0676C4" stroke="#0676C4" stroke-width="29.3"/>
<line x1="650.0" y1="181.59" x2="647.0" y2="181.59" stroke="#D95319" stroke-width="1.4"/>
<text transform="translate(654.60,187.19)" class="tk" fill="#D95319" stroke="#D95319" stroke-width="0.2">0</text>
<line x1="650.0" y1="135.28" x2="647.0" y2="135.28" stroke="#D95319" stroke-width="1.4"/>
<text transform="translate(654.60,140.88)" class="tk" fill="#D95319" stroke="#D95319" stroke-width="0.2">2</text>
<line x1="650.0" y1="88.97" x2="647.0" y2="88.97" stroke="#D95319" stroke-width="1.4"/>
<text transform="translate(654.60,94.57)" class="tk" fill="#D95319" stroke="#D95319" stroke-width="0.2">4</text>
<line x1="650.0" y1="42.66" x2="647.0" y2="42.66" stroke="#D95319" stroke-width="1.4"/>
<text transform="translate(654.60,48.26)" class="tk" fill="#D95319" stroke="#D95319" stroke-width="0.2">6</text>
<text transform="translate(527.64,243.90)" class="xl" text-anchor="middle" fill="#262626" stroke="#262626" stroke-width="0.15">Time (ms)</text>
<text transform="translate(369.10,112.12) rotate(-90)" class="yl" text-anchor="middle" fill="#0676C4">Acceleration (<tspan font-style="italic" font-size="15px" dx="1.0">g</tspan><tspan dx="0.9">)</tspan></text>
<text transform="translate(681.50,112.12) rotate(-90)" class="xl" text-anchor="middle" fill="#D95319" stroke="#D95319" stroke-width="0.15">Displacement (µm)</text>
<text transform="translate(646.80,37.76) scale(1,1.04)" class="th" text-anchor="end" stroke="#262626" stroke-width="0.45">2nd Threshold</text>
<text transform="translate(646.80,107.17) scale(1,1.04)" class="th" text-anchor="end" stroke="#262626" stroke-width="0.45">&#x2007;st Threshold</text><path transform="translate(565.60,107.17) scale(0.00605,-0.00630)" d="M530,0L530,1010Q400,880 190,810L190,1060Q300,1100 430,1200Q560,1300 610,1409L800,1409L800,0Z" fill="#262626" stroke="#262626" stroke-width="74.3"/>
<text transform="translate(409.40,33.30)" class="am" stroke="#ff0000" stroke-width="0.35"><tspan font-style="italic">35 g</tspan></text>
<text transform="translate(404.70,12.20)" class="pl" stroke="#000" stroke-width="0.6">(b)</text>
</g>
<g>
<clipPath id="clip01"><rect x="49.4" y="272.5" width="245.87999999999997" height="185.25"/></clipPath>
<line x1="50.00" y1="295.66" x2="294.80" y2="295.66" stroke="#6b6b6b" stroke-width="1.2" stroke-dasharray="4.0 3.5"/>
<line x1="50.00" y1="365.12" x2="294.80" y2="365.12" stroke="#6b6b6b" stroke-width="1.2" stroke-dasharray="4.0 3.5"/>
<polyline clip-path="url(#clip01)" points="49.4,437.5 49.7,435.9 50.1,434.2 50.4,432.6 50.8,431.0 51.1,429.4 51.4,427.8 51.8,426.2 52.1,424.6 52.5,423.0 52.8,421.3 53.2,419.7 53.5,418.1 53.8,416.6 54.2,415.0 54.5,413.4 54.9,411.8 55.2,410.2 55.5,408.6 55.9,407.1 56.2,405.5 56.6,403.9 56.9,402.4 57.3,400.8 57.6,399.3 57.9,397.8 58.3,396.2 58.6,394.7 59.0,393.2 59.3,391.7 59.6,390.2 60.0,388.7 60.3,387.2 60.7,385.8 61.0,384.3 61.4,382.8 61.7,381.4 62.0,380.0 62.4,378.5 62.7,377.1 63.1,375.7 63.4,374.3 63.7,372.9 64.1,371.6 64.4,370.2 64.8,368.9 65.1,367.5 65.5,366.2 65.8,364.9 66.1,363.6 66.5,362.3 66.8,361.0 67.2,359.7 67.5,358.5 67.8,357.3 68.2,356.0 68.5,354.8 68.9,353.6 69.2,352.5 69.5,351.3 69.9,350.1 70.2,349.0 70.6,347.9 70.9,346.8 71.3,345.7 71.6,344.6 71.9,343.6 72.3,342.5 72.6,341.5 73.0,340.5 73.3,339.5 73.6,338.5 74.0,337.6 74.3,336.6 74.7,335.7 75.0,334.8 75.4,333.9 75.7,333.0 76.0,332.2 76.4,331.3 76.7,330.5 77.1,329.7 77.4,328.9 77.7,328.2 78.1,327.4 78.4,326.7 78.8,326.0 79.1,325.3 79.5,324.6 79.8,324.0 80.1,323.4 80.5,322.8 80.8,322.2 81.2,321.6 81.5,321.1 81.8,320.5 82.2,320.0 82.5,319.5 82.9,319.1 83.2,318.6 83.5,318.2 83.9,317.8 84.2,317.4 84.6,317.0 84.9,316.7 85.3,316.3 85.6,316.0 85.9,315.8 86.3,315.5 86.6,315.2 87.0,315.0 87.3,314.8 87.6,314.6 88.0,314.5 88.3,314.3 88.7,314.2 89.0,314.1 89.4,314.1 89.7,314.0 90.0,314.0 90.4,314.0 90.7,314.0 91.1,314.0 91.4,314.1 91.7,314.1 92.1,314.2 92.4,314.3 92.8,314.5 93.1,314.6 93.5,314.8 93.8,315.0 94.1,315.2 94.5,315.5 94.8,315.8 95.2,316.0 95.5,316.3 95.8,316.7 96.2,317.0 96.5,317.4 96.9,317.8 97.2,318.2 97.6,318.6 97.9,319.1 98.2,319.5 98.6,320.0 98.9,320.5 99.3,321.1 99.6,321.6 99.9,322.2 100.3,322.8 100.6,323.4 101.0,324.0 101.3,324.6 101.6,325.3 102.0,326.0 102.3,326.7 102.7,327.4 103.0,328.2 103.4,328.9 103.7,329.7 104.0,330.5 104.4,331.3 104.7,332.2 105.1,333.0 105.4,333.9 105.7,334.8 106.1,335.7 106.4,336.6 106.8,337.6 107.1,338.5 107.5,339.5 107.8,340.5 108.1,341.5 108.5,342.5 108.8,343.6 109.2,344.6 109.5,345.7 109.8,346.8 110.2,347.9 110.5,349.0 110.9,350.1 111.2,351.3 111.6,352.5 111.9,353.6 112.2,354.8 112.6,356.0 112.9,357.3 113.3,358.5 113.6,359.7 113.9,361.0 114.3,362.3 114.6,363.6 115.0,364.9 115.3,366.2 115.7,367.5 116.0,368.9 116.3,370.2 116.7,371.6 117.0,372.9 117.4,374.3 117.7,375.7 118.0,377.1 118.4,378.5 118.7,380.0 119.1,381.4 119.4,382.8 119.7,384.3 120.1,385.8 120.4,387.2 120.8,388.7 121.1,390.2 121.5,391.7 121.8,393.2 122.1,394.7 122.5,396.2 122.8,397.8 123.2,399.3 123.5,400.8 123.8,402.4 124.2,403.9 124.5,405.5 124.9,407.1 125.2,408.6 125.6,410.2 125.9,411.8 126.2,413.4 126.6,415.0 126.9,416.6 127.3,418.1 127.6,419.7 127.9,421.3 128.3,423.0 128.6,424.6 129.0,426.2 129.3,427.8 129.7,429.4 130.0,431.0 130.3,432.6 130.7,434.2 131.0,435.9 131.4,437.5 295.3,437.5" fill="none" stroke="#127DCA" stroke-width="1.55" stroke-linejoin="round"/>
<polyline clip-path="url(#clip01)" points="50.0,435.0 50.3,434.9 50.5,434.6 50.8,434.2 51.0,433.6 51.3,432.8 51.6,431.9 51.8,430.8 52.1,429.6 52.4,428.3 52.6,426.8 52.9,425.3 53.1,423.6 53.4,421.8 53.7,419.9 53.9,417.8 54.2,415.5 54.4,413.0 54.7,410.4 54.9,407.7 55.2,405.0 55.5,402.2 55.7,399.4 56.0,396.6 56.2,393.8 56.5,391.1 56.7,388.5 57.0,386.0 57.3,383.4 57.5,380.5 57.8,377.4 58.1,374.4 58.3,371.4 58.6,368.6 58.8,366.0 59.1,363.8 59.4,362.2 59.6,361.1 59.9,360.7 60.2,361.0 60.4,361.8 60.7,363.0 60.9,364.6 61.2,366.5 61.4,368.6 61.7,370.8 61.9,373.0 62.2,375.2 62.4,377.3 62.7,379.2 62.9,380.8 63.2,382.0 63.4,382.8 63.7,383.1 64.0,382.9 64.2,382.1 64.5,381.0 64.7,379.5 65.0,377.7 65.2,375.7 65.5,373.4 65.7,371.0 66.0,368.4 66.2,365.7 66.5,363.1 66.7,360.4 67.0,357.8 67.2,355.4 67.5,353.1 67.7,351.1 68.0,349.3 68.2,347.8 68.5,346.7 68.7,345.9 69.0,345.7 69.3,346.0 69.5,346.9 69.8,348.2 70.0,349.9 70.3,352.0 70.5,354.2 70.8,356.6 71.0,359.0 71.3,361.4 71.5,363.6 71.8,365.7 72.0,367.4 72.3,368.7 72.5,369.6 72.8,369.9 73.1,369.6 73.3,368.9 73.6,367.8 73.8,366.2 74.1,364.4 74.3,362.2 74.6,359.9 74.8,357.4 75.1,354.7 75.3,352.0 75.6,349.2 75.8,346.5 76.1,343.8 76.3,341.3 76.6,339.0 76.8,336.8 77.1,335.0 77.3,333.4 77.6,332.3 77.8,331.6 78.1,331.3 78.4,331.5 78.6,332.0 78.9,332.8 79.1,333.8 79.4,335.1 79.6,336.5 79.9,338.1 80.2,339.8 80.4,341.7 80.7,343.5 80.9,345.4 81.2,347.2 81.4,349.1 81.7,350.8 82.0,352.4 82.2,353.8 82.5,355.1 82.7,356.1 83.0,356.9 83.2,357.4 83.5,357.6 83.8,357.4 84.0,356.8 84.3,355.8 84.5,354.6 84.8,353.0 85.0,351.2 85.3,349.2 85.6,347.0 85.8,344.7 86.1,342.3 86.3,339.8 86.6,337.4 86.8,334.9 87.1,332.5 87.3,330.2 87.6,328.0 87.9,326.0 88.1,324.2 88.4,322.6 88.6,321.4 88.9,320.4 89.1,319.8 89.4,319.6 89.7,319.8 89.9,320.4 90.2,321.3 90.4,322.6 90.7,324.1 90.9,325.9 91.2,327.9 91.4,330.0 91.7,332.3 91.9,334.7 92.2,337.1 92.4,339.5 92.7,341.9 92.9,344.3 93.2,346.6 93.4,348.7 93.7,350.7 93.9,352.5 94.2,354.0 94.4,355.3 94.7,356.2 94.9,356.8 95.2,357.0 95.5,356.8 95.7,356.3 96.0,355.5 96.2,354.5 96.5,353.2 96.8,351.7 97.0,350.0 97.3,348.3 97.5,346.4 97.8,344.4 98.1,342.4 98.3,340.5 98.6,338.5 98.8,336.6 99.1,334.9 99.3,333.2 99.6,331.7 99.9,330.4 100.1,329.4 100.4,328.6 100.6,328.1 100.9,327.9 101.2,328.2 101.4,329.0 101.7,330.3 101.9,332.1 102.2,334.2 102.5,336.6 102.7,339.3 103.0,342.1 103.2,345.0 103.5,348.0 103.8,351.1 104.0,354.0 104.3,356.8 104.5,359.5 104.8,361.9 105.1,364.0 105.3,365.8 105.6,367.1 105.8,367.9 106.1,368.2 106.4,367.9 106.6,367.1 106.9,365.8 107.1,364.2 107.4,362.3 107.7,360.1 107.9,357.8 108.2,355.4 108.5,353.1 108.7,350.8 109.0,348.6 109.2,346.7 109.5,345.1 109.8,343.8 110.0,343.0 110.3,342.7 110.6,343.0 110.8,343.8 111.1,345.2 111.3,346.9 111.6,349.0 111.8,351.4 112.1,354.0 112.3,356.8 112.6,359.6 112.8,362.6 113.1,365.4 113.3,368.2 113.6,370.8 113.8,373.2 114.1,375.3 114.3,377.0 114.6,378.4 114.8,379.2 115.1,379.5 115.3,379.2 115.6,378.5 115.8,377.4 116.1,376.0 116.3,374.3 116.6,372.4 116.8,370.3 117.1,368.2 117.3,366.2 117.6,364.1 117.8,362.2 118.1,360.5 118.3,359.1 118.6,358.0 118.8,357.3 119.1,357.0 119.4,357.5 119.6,359.0 119.9,361.3 120.1,364.3 120.4,367.8 120.7,371.7 120.9,375.9 121.2,380.1 121.5,384.2 121.7,388.2 122.0,391.8 122.2,394.9 122.5,397.4 122.8,399.4 123.0,401.3 123.3,403.1 123.5,404.9 123.8,406.5 124.0,408.0 124.3,409.4 124.5,410.6 124.8,411.7 125.0,412.7 125.3,413.5 125.5,414.1 125.8,414.6 126.0,414.9 126.3,415.0 126.6,415.0 126.8,415.0 127.1,414.9 127.3,414.9 127.6,414.9 127.9,414.8 128.1,414.8 128.4,414.7 128.7,414.7 128.9,414.7 129.2,414.6 129.4,414.6 129.7,414.6 130.0,414.7 130.2,415.1 130.5,415.7 130.7,416.5 131.0,417.5 131.2,418.7 131.5,420.0 131.7,421.5 132.0,423.1 132.2,424.8 132.5,426.5 132.7,428.4 133.0,430.3 133.2,432.2 133.5,434.2 133.7,436.2 134.0,438.1 134.2,440.0 134.5,441.9 134.7,443.6 135.0,445.3 135.2,446.9 135.5,448.4 135.7,449.7 136.0,450.9 136.2,451.9 136.5,452.7 136.7,453.3 137.0,453.7 137.2,453.8 137.5,453.7 137.7,453.4 138.0,452.9 138.2,452.2 138.5,451.3 138.7,450.3 139.0,449.1 139.2,447.7 139.5,446.2 139.7,444.6 140.0,442.8 140.2,441.0 140.5,439.1 140.7,437.2 141.0,435.2 141.2,433.3 141.5,431.3 141.7,429.4 142.0,427.5 142.2,425.7 142.5,424.0 142.7,422.5 143.0,421.0 143.2,419.7 143.5,418.5 143.7,417.5 144.0,416.7 144.2,416.1 144.5,415.7 144.7,415.4 145.0,415.4 145.2,415.6 145.5,416.0 145.7,416.5 146.0,417.3 146.2,418.2 146.5,419.3 146.7,420.6 147.0,422.0 147.2,423.6 147.5,425.3 147.7,427.0 148.0,428.9 148.2,430.8 148.5,432.7 148.7,434.7 149.0,436.6 149.2,438.6 149.5,440.5 149.7,442.3 150.0,444.1 150.2,445.7 150.5,447.3 150.7,448.7 151.0,450.0 151.2,451.1 151.5,452.0 151.7,452.7 152.0,453.3 152.2,453.6 152.5,453.8 152.7,453.7 153.0,453.5 153.2,453.1 153.5,452.4 153.7,451.6 154.0,450.6 154.2,449.4 154.5,448.1 154.7,446.6 155.0,445.0 155.2,443.3 155.5,441.5 155.7,439.7 156.0,437.7 156.2,435.8 156.5,433.8 156.7,431.9 157.0,429.9 157.2,428.0 157.5,426.2 157.7,424.5 158.0,422.9 158.2,421.4 158.5,420.0 158.7,418.8 159.0,417.8 159.2,416.9 159.5,416.3 159.7,415.8 160.0,415.5 160.2,415.4 160.5,415.5 160.7,415.8 161.0,416.3 161.2,417.1 161.5,417.9 161.7,419.0 162.0,420.2 162.2,421.6 162.5,423.1 162.7,424.8 163.0,426.5 163.2,428.3 163.5,430.2 163.7,432.2 164.0,434.1 164.2,436.1 164.5,438.0 164.7,440.0 165.0,441.8 165.2,443.6 165.5,445.3 165.7,446.9 166.0,448.3 166.2,449.6 166.5,450.8 166.7,451.7 167.0,452.5 167.2,453.1 167.5,453.6 167.7,453.8 168.0,453.8 168.2,453.6 168.5,453.2 168.7,452.6 169.0,451.8 169.2,450.9 169.5,449.8 169.7,448.5 170.0,447.0 170.2,445.5 170.5,443.8 170.7,442.0 171.0,440.2 171.2,438.3 171.5,436.3 171.7,434.4 172.0,432.4 172.2,430.5 172.5,428.6 172.7,426.7 173.0,425.0 173.2,423.3 173.5,421.8 173.7,420.4 174.0,419.2 174.2,418.1 174.5,417.2 174.7,416.4 175.0,415.9 175.2,415.5 175.5,415.4 175.7,415.5 176.0,415.7 176.2,416.2 176.5,416.8 176.7,417.7 177.0,418.7 177.2,419.9 177.5,421.2 177.7,422.7 178.0,424.3 178.2,426.0 178.5,427.8 178.7,429.7 179.0,431.6 179.2,433.6 179.5,435.5 179.7,437.5 180.0,439.4 180.2,441.3 180.5,443.1 180.7,444.8 181.0,446.4 181.2,447.9 181.5,449.3 181.7,450.5 182.0,451.5 182.2,452.3 182.5,453.0 182.7,453.5 183.0,453.7 183.2,453.8 183.5,453.7 183.7,453.3 184.0,452.8 184.2,452.1 184.5,451.2 184.7,450.1 185.0,448.9 185.2,447.5 185.5,445.9 185.7,444.3 186.0,442.5 186.2,440.7 186.5,438.8 186.7,436.9 187.0,434.9 187.2,432.9 187.5,431.0 187.7,429.1 188.0,427.2 188.2,425.5 188.5,423.8 188.7,422.2 189.0,420.8 189.2,419.5 189.5,418.4 189.7,417.4 190.0,416.6 190.2,416.0 190.5,415.6 190.7,415.4 191.0,415.4 191.2,415.6 191.5,416.0 191.7,416.6 192.0,417.4 192.2,418.4 192.5,419.5 192.7,420.8 193.0,422.3 193.2,423.8 193.5,425.5 193.7,427.3 194.0,429.2 194.2,431.1 194.5,433.0 194.7,435.0 195.0,437.0 195.2,438.9 195.5,440.8 195.7,442.6 196.0,444.4 196.2,446.0 196.5,447.5 196.7,448.9 197.0,450.1 197.2,451.2 197.5,452.1 197.7,452.8 198.0,453.3 198.2,453.7 198.5,453.8 198.7,453.7 199.0,453.4 199.2,453.0 199.5,452.3 199.7,451.4 200.0,450.4 200.2,449.2 200.5,447.9 200.7,446.4 201.0,444.8 201.2,443.0 201.5,441.2 201.7,439.4 202.0,437.4 202.2,435.5 202.5,433.5 202.7,431.5 203.0,429.6 203.2,427.7 203.5,425.9 203.7,424.2 204.0,422.6 204.2,421.2 204.5,419.8 204.7,418.7 205.0,417.6 205.2,416.8 205.5,416.2 205.7,415.7 206.0,415.5 206.2,415.4 206.5,415.6 206.7,415.9 207.0,416.4 207.2,417.2 207.5,418.1 207.7,419.2 208.0,420.5 208.2,421.9 208.5,423.4 208.7,425.0 209.0,426.8 209.2,428.6 209.5,430.5 209.7,432.5 210.0,434.4 210.2,436.4 210.5,438.4 210.7,440.3 211.0,442.1 211.2,443.9 211.5,445.6 211.7,447.1 212.0,448.5 212.2,449.8 212.5,450.9 212.7,451.9 213.0,452.6 213.2,453.2 213.5,453.6 213.7,453.8 214.0,453.8 214.2,453.5 214.5,453.1 214.7,452.5 215.0,451.7 215.2,450.7 215.5,449.6 215.7,448.3 216.0,446.8 216.2,445.2 216.5,443.5 216.7,441.7 217.0,439.9 217.2,438.0 217.5,436.0 217.7,434.0 218.0,432.1 218.2,430.2 218.5,428.3 218.7,426.4 219.0,424.7 219.2,423.1 219.5,421.6 219.7,420.2 220.0,419.0 220.2,417.9 220.5,417.0 220.7,416.3 221.0,415.8 221.2,415.5 221.5,415.4 221.7,415.5 222.0,415.8 222.2,416.3 222.5,417.0 222.7,417.8 223.0,418.9 223.2,420.1 223.5,421.4 223.7,422.9 224.0,424.6 224.2,426.3 224.5,428.1 224.7,430.0 225.0,431.9 225.2,433.9 225.5,435.9 225.7,437.8 226.0,439.7 226.2,441.6 226.5,443.4 226.7,445.1 227.0,446.7 227.2,448.1 227.5,449.5 227.7,450.6 228.0,451.6 228.2,452.4 228.5,453.1 228.7,453.5 229.0,453.8 229.2,453.8 229.5,453.6 229.7,453.3 230.0,452.7 230.2,451.9 230.5,451.0 230.7,449.9 231.0,448.6 231.2,447.2 231.5,445.7 231.7,444.0 232.0,442.3 232.2,440.4 232.5,438.5 232.7,436.6 233.0,434.6 233.2,432.6 233.5,430.7 233.7,428.8 234.0,426.9 234.2,425.2 234.5,423.5 234.7,422.0 235.0,420.6 235.2,419.3 235.5,418.2 235.7,417.3 236.0,416.5 236.2,415.9 236.5,415.6 236.7,415.4 237.0,415.4 237.2,415.7 237.5,416.1 237.7,416.8 238.0,417.6 238.2,418.6 238.5,419.7 238.7,421.1 239.0,422.5 239.2,424.1 239.5,425.8 239.7,427.6 240.0,429.5 240.2,431.4 240.5,433.3 240.7,435.3 241.0,437.3 241.2,439.2 241.5,441.1 241.7,442.9 242.0,444.6 242.2,446.3 242.5,447.8 242.7,449.1 243.0,450.3 243.2,451.4 243.5,452.2 243.7,452.9 244.0,453.4 244.2,453.7 244.5,453.8 244.7,453.7 245.0,453.4 245.2,452.9 245.5,452.2 245.7,451.3 246.0,450.2 246.2,449.0 246.5,447.6 246.7,446.1 247.0,444.5 247.2,442.8 247.5,440.9 247.7,439.0 248.0,437.1 248.2,435.2 248.5,433.2 248.7,431.2 249.0,429.3 249.2,427.5 249.5,425.7 249.7,424.0 250.0,422.4 250.2,420.9 250.5,419.6 250.7,418.5 251.0,417.5 251.2,416.7 251.5,416.1 251.7,415.7 252.0,415.4 252.2,415.4 252.5,415.6 252.7,416.0 253.0,416.6 253.2,417.3 253.5,418.3 253.7,419.4 254.0,420.7 254.2,422.1 254.5,423.6 254.7,425.3 255.0,427.1 255.2,428.9 255.5,430.8 255.7,432.8 256.0,434.8 256.2,436.7 256.5,438.7 256.7,440.6 257.0,442.4 257.2,444.2 257.5,445.8 257.7,447.3 258.0,448.7 258.2,450.0 258.5,451.1 258.7,452.0 259.0,452.8 259.2,453.3 259.5,453.6 259.7,453.8 260.0,453.7 260.2,453.5 260.5,453.0 260.7,452.4 261.0,451.6 261.2,450.5 261.5,449.4 261.7,448.0 262.0,446.6 262.2,445.0 262.5,443.3 262.7,441.5 263.0,439.6 263.2,437.7 263.5,435.7 263.7,433.7 264.0,431.8 264.2,429.8 264.5,428.0 264.7,426.2 265.0,424.4 265.2,422.8 265.5,421.3 265.7,420.0 266.0,418.8 266.2,417.8 266.5,416.9 266.7,416.2 267.0,415.8 267.2,415.5 267.5,415.4 267.7,415.5 268.0,415.9 268.2,416.4 268.5,417.1 268.7,418.0 269.0,419.1 269.2,420.3 269.5,421.7 269.7,423.2 270.0,424.8 270.2,426.6 270.5,428.4 270.7,430.3 271.0,432.2 271.2,434.2 271.5,436.2 271.7,438.1 272.0,440.0 272.2,441.9 272.5,443.7 272.7,445.4 273.0,446.9 273.2,448.4 273.5,449.7 273.7,450.8 274.0,451.8 274.2,452.6 274.5,453.2 274.7,453.6 275.0,453.8 275.2,453.8 275.5,453.6 275.7,453.2 276.0,452.6 276.2,451.8 276.5,450.8 276.7,449.7 277.0,448.4 277.2,447.0 277.5,445.4 277.7,443.7 278.0,442.0 278.2,440.1 278.5,438.2 278.7,436.3 279.0,434.3 279.2,432.3 279.5,430.4 279.7,428.5 280.0,426.7 280.2,424.9 280.5,423.3 280.7,421.7 281.0,420.3 281.2,419.1 281.5,418.0 281.7,417.1 282.0,416.4 282.2,415.9 282.5,415.5 282.7,415.4 283.0,415.5 283.2,415.7 283.5,416.2 283.7,416.9 284.0,417.7 284.2,418.7 284.5,419.9 284.7,421.3 285.0,422.8 285.2,424.4 285.5,426.1 285.7,427.9 286.0,429.8 286.2,431.7 286.5,433.7 286.7,435.6 287.0,437.6 287.2,439.5 287.5,441.4 287.7,443.2 288.0,444.9 288.2,446.5 288.5,448.0 288.7,449.3 289.0,450.5 289.2,451.5 289.5,452.4 289.7,453.0 290.0,453.5 290.2,453.7 290.5,453.8 290.7,453.7 291.0,453.3 291.2,452.8 291.5,452.0 291.7,451.1 292.0,450.0 292.2,448.8 292.5,447.4 292.7,445.9 293.0,444.2 293.2,442.5 293.5,440.6 293.7,438.7 294.0,436.8 294.2,434.8 294.5,432.9 294.7,430.9 295.0,429.0 295.2,427.2 295.5,425.4 295.7,423.7 295.8,423.5" fill="none" stroke="#D95319" stroke-width="1.5" stroke-linejoin="round"/>
<line x1="49.8" y1="272.4" x2="294.8" y2="272.4" stroke="#262626" stroke-width="1.35"/>
<line x1="49.8" y1="457.7" x2="294.8" y2="457.7" stroke="#262626" stroke-width="1.35"/>
<line x1="49.8" y1="271.79999999999995" x2="49.8" y2="458.3" stroke="#0676C4" stroke-width="1.35"/>
<line x1="294.8" y1="271.79999999999995" x2="294.8" y2="458.3" stroke="#D95319" stroke-width="1.35"/>
<text transform="translate(49.40,477.00)" class="tk" text-anchor="middle" fill="#262626" stroke="#262626" stroke-width="0.2">0</text>
<line x1="104.04" y1="457.7" x2="104.04" y2="454.7" stroke="#262626" stroke-width="1.4"/>
<line x1="104.04" y1="272.4" x2="104.04" y2="275.4" stroke="#262626" stroke-width="1.4"/>
<text transform="translate(104.04,477.00)" class="tk" text-anchor="middle" fill="#262626" stroke="#262626" stroke-width="0.2">2</text>
<line x1="158.68" y1="457.7" x2="158.68" y2="454.7" stroke="#262626" stroke-width="1.4"/>
<line x1="158.68" y1="272.4" x2="158.68" y2="275.4" stroke="#262626" stroke-width="1.4"/>
<text transform="translate(158.68,477.00)" class="tk" text-anchor="middle" fill="#262626" stroke="#262626" stroke-width="0.2">4</text>
<line x1="213.32" y1="457.7" x2="213.32" y2="454.7" stroke="#262626" stroke-width="1.4"/>
<line x1="213.32" y1="272.4" x2="213.32" y2="275.4" stroke="#262626" stroke-width="1.4"/>
<text transform="translate(213.32,477.00)" class="tk" text-anchor="middle" fill="#262626" stroke="#262626" stroke-width="0.2">6</text>
<line x1="267.96" y1="457.7" x2="267.96" y2="454.7" stroke="#262626" stroke-width="1.4"/>
<line x1="267.96" y1="272.4" x2="267.96" y2="275.4" stroke="#262626" stroke-width="1.4"/>
<text transform="translate(267.96,477.00)" class="tk" text-anchor="middle" fill="#262626" stroke="#262626" stroke-width="0.2">8</text>
<line x1="49.8" y1="437.17" x2="52.8" y2="437.17" stroke="#0676C4" stroke-width="1.4"/>
<text transform="translate(44.80,442.77)" class="tk" text-anchor="end" fill="#0676C4" stroke="#0676C4" stroke-width="0.2">0</text>
<line x1="49.8" y1="409.72" x2="52.8" y2="409.72" stroke="#0676C4" stroke-width="1.4"/>
<text transform="translate(44.80,415.32)" class="tk" text-anchor="end" fill="#0676C4" stroke="#0676C4" stroke-width="0.2">20</text>
<line x1="49.8" y1="382.28" x2="52.8" y2="382.28" stroke="#0676C4" stroke-width="1.4"/>
<text transform="translate(44.80,387.88)" class="tk" text-anchor="end" fill="#0676C4" stroke="#0676C4" stroke-width="0.2">40</text>
<line x1="49.8" y1="354.83" x2="52.8" y2="354.83" stroke="#0676C4" stroke-width="1.4"/>
<text transform="translate(44.80,360.43)" class="tk" text-anchor="end" fill="#0676C4" stroke="#0676C4" stroke-width="0.2">60</text>
<line x1="49.8" y1="327.39" x2="52.8" y2="327.39" stroke="#0676C4" stroke-width="1.4"/>
<text transform="translate(44.80,332.99)" class="tk" text-anchor="end" fill="#0676C4" stroke="#0676C4" stroke-width="0.2">80</text>
<line x1="49.8" y1="299.94" x2="52.8" y2="299.94" stroke="#0676C4" stroke-width="1.4"/>
<text transform="translate(44.80,305.54)" class="tk" text-anchor="end" fill="#0676C4" stroke="#0676C4" stroke-width="0.2">&#x2007;00</text><path transform="translate(21.46,305.54) scale(0.00684,-0.00684)" d="M583,0L583,1147Q518,1085 412,1023Q306,961 223,930L223,1104Q373,1175 485,1276Q597,1377 644,1409L763,1409L763,0Z" fill="#0676C4" stroke="#0676C4" stroke-width="29.3"/>
<line x1="49.8" y1="272.50" x2="52.8" y2="272.50" stroke="#0676C4" stroke-width="1.4"/>
<text transform="translate(44.80,278.10)" class="tk" text-anchor="end" fill="#0676C4" stroke="#0676C4" stroke-width="0.2">&#x2007;20</text><path transform="translate(21.46,278.10) scale(0.00684,-0.00684)" d="M583,0L583,1147Q518,1085 412,1023Q306,961 223,930L223,1104Q373,1175 485,1276Q597,1377 644,1409L763,1409L763,0Z" fill="#0676C4" stroke="#0676C4" stroke-width="29.3"/>
<line x1="294.8" y1="434.59" x2="291.8" y2="434.59" stroke="#D95319" stroke-width="1.4"/>
<text transform="translate(299.40,440.19)" class="tk" fill="#D95319" stroke="#D95319" stroke-width="0.2">0</text>
<line x1="294.8" y1="388.28" x2="291.8" y2="388.28" stroke="#D95319" stroke-width="1.4"/>
<text transform="translate(299.40,393.88)" class="tk" fill="#D95319" stroke="#D95319" stroke-width="0.2">2</text>
<line x1="294.8" y1="341.97" x2="291.8" y2="341.97" stroke="#D95319" stroke-width="1.4"/>
<text transform="translate(299.40,347.57)" class="tk" fill="#D95319" stroke="#D95319" stroke-width="0.2">4</text>
<line x1="294.8" y1="295.66" x2="291.8" y2="295.66" stroke="#D95319" stroke-width="1.4"/>
<text transform="translate(299.40,301.26)" class="tk" fill="#D95319" stroke="#D95319" stroke-width="0.2">6</text>
<text transform="translate(172.34,496.90)" class="xl" text-anchor="middle" fill="#262626" stroke="#262626" stroke-width="0.15">Time (ms)</text>
<text transform="translate(13.80,365.12) rotate(-90)" class="yl" text-anchor="middle" fill="#0676C4">Acceleration (<tspan font-style="italic" font-size="15px" dx="1.0">g</tspan><tspan dx="0.9">)</tspan></text>
<text transform="translate(326.30,365.12) rotate(-90)" class="xl" text-anchor="middle" fill="#D95319" stroke="#D95319" stroke-width="0.15">Displacement (µm)</text>
<text transform="translate(291.60,290.76) scale(1,1.04)" class="th" text-anchor="end" stroke="#262626" stroke-width="0.45">2nd Threshold</text>
<text transform="translate(291.60,360.18) scale(1,1.04)" class="th" text-anchor="end" stroke="#262626" stroke-width="0.45">&#x2007;st Threshold</text><path transform="translate(210.40,360.18) scale(0.00605,-0.00630)" d="M530,0L530,1010Q400,880 190,810L190,1060Q300,1100 430,1200Q560,1300 610,1409L800,1409L800,0Z" fill="#262626" stroke="#262626" stroke-width="74.3"/>
<text transform="translate(53.40,286.30)" class="am" stroke="#ff0000" stroke-width="0.35">90 <tspan font-style="italic">g</tspan></text>
<text transform="translate(49.40,265.20)" class="pl" stroke="#000" stroke-width="0.6">(c)</text>
</g>
<g>
<clipPath id="clip11"><rect x="404.7" y="272.5" width="245.88000000000005" height="185.25"/></clipPath>
<line x1="405.30" y1="295.66" x2="650.00" y2="295.66" stroke="#6b6b6b" stroke-width="1.2" stroke-dasharray="4.0 3.5"/>
<line x1="405.30" y1="365.12" x2="650.00" y2="365.12" stroke="#6b6b6b" stroke-width="1.2" stroke-dasharray="4.0 3.5"/>
<polyline clip-path="url(#clip11)" points="404.7,437.5 405.0,435.5 405.4,433.6 405.7,431.6 406.1,429.7 406.4,427.8 406.7,425.8 407.1,423.9 407.4,422.0 407.8,420.0 408.1,418.1 408.5,416.2 408.8,414.3 409.1,412.4 409.5,410.5 409.8,408.6 410.2,406.7 410.5,404.8 410.8,402.9 411.2,401.0 411.5,399.1 411.9,397.2 412.2,395.4 412.6,393.5 412.9,391.7 413.2,389.8 413.6,388.0 413.9,386.2 414.3,384.4 414.6,382.6 414.9,380.8 415.3,379.0 415.6,377.2 416.0,375.4 416.3,373.7 416.7,371.9 417.0,370.2 417.3,368.5 417.7,366.8 418.0,365.1 418.4,363.4 418.7,361.7 419.0,360.0 419.4,358.4 419.7,356.8 420.1,355.1 420.4,353.5 420.8,351.9 421.1,350.4 421.4,348.8 421.8,347.2 422.1,345.7 422.5,344.2 422.8,342.7 423.1,341.2 423.5,339.8 423.8,338.3 424.2,336.9 424.5,335.5 424.8,334.1 425.2,332.7 425.5,331.3 425.9,330.0 426.2,328.6 426.6,327.3 426.9,326.0 427.2,324.8 427.6,323.5 427.9,322.3 428.3,321.1 428.6,319.9 428.9,318.7 429.3,317.6 429.6,316.4 430.0,315.3 430.3,314.2 430.7,313.2 431.0,312.1 431.3,311.1 431.7,310.1 432.0,309.1 432.4,308.2 432.7,307.2 433.0,306.3 433.4,305.4 433.7,304.6 434.1,303.7 434.4,302.9 434.8,302.1 435.1,301.3 435.4,300.5 435.8,299.8 436.1,299.1 436.5,298.4 436.8,297.8 437.1,297.1 437.5,296.5 437.8,295.9 438.2,295.4 438.5,294.8 438.9,294.3 439.2,293.8 439.5,293.4 439.9,292.9 440.2,292.5 440.6,292.1 440.9,291.7 441.2,291.4 441.6,291.1 441.9,290.8 442.3,290.5 442.6,290.3 442.9,290.1 443.3,289.9 443.6,289.7 444.0,289.6 444.3,289.5 444.7,289.4 445.0,289.3 445.3,289.3 445.7,289.3 446.0,289.3 446.4,289.3 446.7,289.4 447.0,289.5 447.4,289.6 447.7,289.7 448.1,289.9 448.4,290.1 448.8,290.3 449.1,290.5 449.4,290.8 449.8,291.1 450.1,291.4 450.5,291.7 450.8,292.1 451.1,292.5 451.5,292.9 451.8,293.4 452.2,293.8 452.5,294.3 452.9,294.8 453.2,295.4 453.5,295.9 453.9,296.5 454.2,297.1 454.6,297.8 454.9,298.4 455.2,299.1 455.6,299.8 455.9,300.5 456.3,301.3 456.6,302.1 456.9,302.9 457.3,303.7 457.6,304.6 458.0,305.4 458.3,306.3 458.7,307.2 459.0,308.2 459.3,309.1 459.7,310.1 460.0,311.1 460.4,312.1 460.7,313.2 461.0,314.2 461.4,315.3 461.7,316.4 462.1,317.6 462.4,318.7 462.8,319.9 463.1,321.1 463.4,322.3 463.8,323.5 464.1,324.8 464.5,326.0 464.8,327.3 465.1,328.6 465.5,330.0 465.8,331.3 466.2,332.7 466.5,334.1 466.9,335.5 467.2,336.9 467.5,338.3 467.9,339.8 468.2,341.2 468.6,342.7 468.9,344.2 469.2,345.7 469.6,347.2 469.9,348.8 470.3,350.4 470.6,351.9 471.0,353.5 471.3,355.1 471.6,356.8 472.0,358.4 472.3,360.0 472.7,361.7 473.0,363.4 473.3,365.1 473.7,366.8 474.0,368.5 474.4,370.2 474.7,371.9 475.0,373.7 475.4,375.4 475.7,377.2 476.1,379.0 476.4,380.8 476.8,382.6 477.1,384.4 477.4,386.2 477.8,388.0 478.1,389.8 478.5,391.7 478.8,393.5 479.1,395.4 479.5,397.2 479.8,399.1 480.2,401.0 480.5,402.9 480.9,404.8 481.2,406.7 481.5,408.6 481.9,410.5 482.2,412.4 482.6,414.3 482.9,416.2 483.2,418.1 483.6,420.0 483.9,422.0 484.3,423.9 484.6,425.8 485.0,427.8 485.3,429.7 485.6,431.6 486.0,433.6 486.3,435.5 486.7,437.5 650.6,437.5" fill="none" stroke="#127DCA" stroke-width="1.55" stroke-linejoin="round"/>
<polyline clip-path="url(#clip11)" points="405.2,434.6 405.5,434.4 405.7,433.9 406.0,433.2 406.3,432.2 406.5,431.0 406.8,429.6 407.1,428.2 407.3,426.6 407.6,425.0 407.9,423.3 408.1,421.5 408.4,419.5 408.6,417.3 408.9,415.0 409.2,412.6 409.4,410.1 409.7,407.4 410.0,404.5 410.2,401.4 410.5,397.9 410.7,394.3 411.0,390.5 411.3,386.6 411.5,382.8 411.8,378.9 412.0,375.2 412.3,371.5 412.6,368.1 412.8,365.0 413.1,362.2 413.4,359.8 413.6,357.8 413.9,356.3 414.1,355.3 414.4,355.0 414.7,355.3 414.9,356.3 415.2,357.8 415.4,359.6 415.7,361.9 415.9,364.3 416.2,366.9 416.4,369.6 416.7,372.2 416.9,374.6 417.2,376.9 417.4,378.7 417.7,380.2 417.9,381.2 418.2,381.5 418.5,381.2 418.7,380.3 419.0,378.9 419.2,377.0 419.5,374.7 419.7,372.1 420.0,369.2 420.3,366.1 420.5,362.9 420.8,359.5 421.0,356.2 421.3,352.8 421.5,349.6 421.8,346.5 422.1,343.6 422.3,341.0 422.6,338.7 422.8,336.8 423.1,335.4 423.3,334.5 423.6,334.2 423.9,334.4 424.1,335.1 424.4,336.2 424.6,337.6 424.9,339.3 425.1,341.3 425.4,343.4 425.6,345.6 425.9,348.0 426.1,350.3 426.4,352.7 426.6,354.9 426.9,357.0 427.1,359.0 427.4,360.7 427.6,362.1 427.9,363.2 428.1,363.9 428.4,364.1 428.7,363.8 428.9,363.1 429.2,361.9 429.4,360.3 429.7,358.4 429.9,356.1 430.2,353.6 430.4,350.8 430.7,347.8 430.9,344.6 431.2,341.4 431.4,338.0 431.7,334.6 432.0,331.2 432.2,327.8 432.5,324.6 432.7,321.4 433.0,318.4 433.2,315.6 433.5,313.1 433.7,310.8 434.0,308.9 434.2,307.3 434.5,306.1 434.7,305.4 435.0,305.1 435.3,305.3 435.5,306.0 435.8,307.1 436.0,308.6 436.3,310.4 436.5,312.4 436.8,314.7 437.0,317.1 437.3,319.7 437.5,322.3 437.8,324.9 438.0,327.5 438.3,330.1 438.5,332.5 438.8,334.8 439.0,336.8 439.3,338.6 439.5,340.1 439.8,341.2 440.0,341.9 440.3,342.1 440.6,341.9 440.8,341.2 441.1,340.1 441.3,338.6 441.6,336.8 441.8,334.7 442.1,332.4 442.3,329.9 442.6,327.2 442.8,324.4 443.1,321.5 443.3,318.6 443.6,315.6 443.8,312.7 444.1,309.9 444.3,307.2 444.6,304.7 444.8,302.4 445.1,300.3 445.3,298.5 445.6,297.0 445.8,295.9 446.1,295.2 446.3,295.0 446.6,295.2 446.8,296.0 447.1,297.1 447.3,298.6 447.6,300.5 447.8,302.7 448.1,305.1 448.3,307.7 448.6,310.5 448.8,313.5 449.1,316.5 449.4,319.6 449.6,322.6 449.9,325.6 450.1,328.6 450.4,331.4 450.6,334.0 450.9,336.4 451.1,338.6 451.4,340.5 451.6,342.0 451.9,343.1 452.1,343.9 452.4,344.1 452.6,343.9 452.9,343.3 453.1,342.3 453.4,341.0 453.6,339.4 453.9,337.5 454.1,335.5 454.4,333.3 454.6,331.0 454.9,328.6 455.1,326.1 455.4,323.7 455.6,321.3 455.9,319.0 456.1,316.8 456.4,314.8 456.6,312.9 456.9,311.3 457.1,310.0 457.4,309.0 457.6,308.4 457.9,308.2 458.2,308.6 458.4,309.6 458.7,311.3 458.9,313.6 459.2,316.3 459.4,319.5 459.7,322.9 460.0,326.6 460.2,330.6 460.5,334.6 460.7,338.6 461.0,342.6 461.2,346.6 461.5,350.3 461.8,353.7 462.0,356.9 462.3,359.6 462.5,361.9 462.8,363.6 463.0,364.6 463.3,365.0 463.6,364.8 463.8,364.1 464.1,363.1 464.3,361.8 464.6,360.1 464.8,358.3 465.1,356.2 465.3,354.0 465.6,351.7 465.9,349.4 466.1,347.1 466.4,344.8 466.6,342.6 466.9,340.5 467.1,338.7 467.4,337.0 467.6,335.7 467.9,334.7 468.1,334.0 468.4,333.8 468.7,334.1 468.9,335.1 469.2,336.6 469.4,338.7 469.7,341.2 469.9,344.0 470.2,347.1 470.4,350.5 470.7,354.0 470.9,357.7 471.2,361.3 471.4,365.0 471.7,368.5 471.9,371.9 472.2,375.0 472.4,377.8 472.7,380.3 472.9,382.4 473.2,383.9 473.4,384.9 473.7,385.2 474.0,384.8 474.2,383.8 474.5,382.2 474.7,380.1 475.0,377.7 475.3,375.0 475.5,372.2 475.8,369.3 476.0,366.5 476.3,363.8 476.6,361.4 476.8,359.3 477.1,357.7 477.3,356.7 477.6,356.3 477.9,356.7 478.1,357.9 478.4,359.8 478.6,362.3 478.9,365.4 479.2,368.9 479.4,372.7 479.7,376.8 479.9,381.1 480.2,385.5 480.4,389.9 480.7,394.3 481.0,398.5 481.2,402.4 481.5,406.0 481.7,409.3 482.0,412.0 482.3,414.5 482.5,417.0 482.8,419.5 483.0,422.0 483.3,424.5 483.6,426.9 483.8,429.3 484.1,431.5 484.3,433.7 484.6,435.8 484.9,437.8 485.1,439.6 485.4,441.3 485.6,442.8 485.9,444.1 486.2,445.3 486.4,446.1 486.7,446.8 486.9,447.2 487.2,447.4 487.4,447.3 487.7,447.0 487.9,446.7 488.2,446.2 488.4,445.6 488.7,444.8 488.9,444.0 489.2,443.0 489.4,442.0 489.7,440.9 489.9,439.7 490.2,438.4 490.4,437.1 490.7,435.8 490.9,434.5 491.2,433.1 491.4,431.8 491.7,430.5 491.9,429.2 492.2,428.0 492.4,426.8 492.7,425.8 492.9,424.8 493.2,423.9 493.4,423.1 493.7,422.5 493.9,421.9 494.2,421.5 494.4,421.3 494.7,421.2 494.9,421.2 495.2,421.3 495.4,421.6 495.7,422.0 495.9,422.6 496.2,423.3 496.4,424.1 496.7,425.0 496.9,426.0 497.2,427.0 497.4,428.2 497.7,429.4 497.9,430.7 498.2,432.0 498.4,433.4 498.7,434.7 498.9,436.1 499.2,437.4 499.4,438.7 499.7,439.9 499.9,441.1 500.2,442.2 500.4,443.2 500.7,444.2 500.9,445.0 501.2,445.7 501.4,446.3 501.7,446.8 501.9,447.1 502.2,447.3 502.4,447.3 502.7,447.3 502.9,447.0 503.2,446.7 503.4,446.2 503.7,445.6 503.9,444.8 504.2,444.0 504.4,443.0 504.7,442.0 504.9,440.9 505.2,439.7 505.4,438.4 505.7,437.1 505.9,435.8 506.2,434.5 506.4,433.1 506.7,431.8 506.9,430.5 507.2,429.2 507.4,428.0 507.7,426.8 507.9,425.8 508.2,424.8 508.4,423.9 508.7,423.1 508.9,422.5 509.2,421.9 509.4,421.5 509.7,421.3 509.9,421.2 510.2,421.2 510.4,421.3 510.7,421.6 510.9,422.0 511.2,422.6 511.4,423.3 511.7,424.1 511.9,425.0 512.2,426.0 512.5,427.0 512.7,428.2 513.0,429.4 513.2,430.7 513.5,432.0 513.7,433.4 514.0,434.7 514.2,436.1 514.5,437.4 514.7,438.7 515.0,439.9 515.2,441.1 515.5,442.2 515.7,443.2 516.0,444.2 516.2,445.0 516.5,445.7 516.7,446.3 517.0,446.8 517.2,447.1 517.5,447.3 517.7,447.3 518.0,447.3 518.2,447.0 518.5,446.7 518.7,446.2 519.0,445.6 519.2,444.8 519.5,444.0 519.7,443.0 520.0,442.0 520.2,440.9 520.5,439.7 520.7,438.4 521.0,437.1 521.2,435.8 521.5,434.5 521.7,433.1 522.0,431.8 522.2,430.5 522.5,429.2 522.7,428.0 523.0,426.8 523.2,425.8 523.5,424.8 523.7,423.9 524.0,423.1 524.2,422.5 524.5,421.9 524.7,421.5 525.0,421.3 525.2,421.2 525.5,421.2 525.7,421.3 526.0,421.6 526.2,422.0 526.5,422.6 526.7,423.3 527.0,424.1 527.2,425.0 527.5,426.0 527.7,427.0 528.0,428.2 528.2,429.4 528.5,430.7 528.7,432.0 529.0,433.4 529.2,434.7 529.5,436.1 529.7,437.4 530.0,438.7 530.2,439.9 530.5,441.1 530.7,442.2 531.0,443.2 531.2,444.2 531.5,445.0 531.7,445.7 532.0,446.3 532.2,446.8 532.5,447.1 532.7,447.3 533.0,447.3 533.2,447.3 533.5,447.0 533.7,446.7 534.0,446.2 534.2,445.6 534.5,444.8 534.7,444.0 535.0,443.0 535.2,442.0 535.5,440.9 535.7,439.7 536.0,438.4 536.2,437.1 536.5,435.8 536.7,434.5 537.0,433.1 537.2,431.8 537.5,430.5 537.7,429.2 538.0,428.0 538.2,426.8 538.5,425.8 538.7,424.8 539.0,423.9 539.2,423.1 539.5,422.5 539.7,421.9 540.0,421.5 540.2,421.3 540.5,421.2 540.7,421.2 541.0,421.3 541.2,421.6 541.5,422.0 541.7,422.6 542.0,423.3 542.2,424.1 542.5,425.0 542.7,426.0 543.0,427.0 543.2,428.2 543.5,429.4 543.7,430.7 544.0,432.0 544.2,433.4 544.5,434.7 544.7,436.1 545.0,437.4 545.2,438.7 545.5,439.9 545.7,441.1 546.0,442.2 546.2,443.2 546.5,444.2 546.7,445.0 547.0,445.7 547.2,446.3 547.5,446.8 547.7,447.1 548.0,447.3 548.2,447.3 548.5,447.3 548.7,447.0 549.0,446.7 549.2,446.2 549.5,445.6 549.7,444.8 550.0,444.0 550.2,443.0 550.5,442.0 550.7,440.9 551.0,439.7 551.2,438.4 551.5,437.1 551.7,435.8 552.0,434.5 552.2,433.1 552.5,431.8 552.7,430.5 553.0,429.2 553.2,428.0 553.5,426.8 553.7,425.8 554.0,424.8 554.2,423.9 554.5,423.1 554.7,422.5 555.0,421.9 555.2,421.5 555.5,421.3 555.7,421.2 556.0,421.2 556.2,421.3 556.5,421.6 556.7,422.0 557.0,422.6 557.2,423.3 557.5,424.1 557.7,425.0 558.0,426.0 558.2,427.0 558.5,428.2 558.7,429.4 559.0,430.7 559.2,432.0 559.5,433.4 559.7,434.7 560.0,436.1 560.2,437.4 560.5,438.7 560.7,439.9 561.0,441.1 561.2,442.2 561.5,443.2 561.7,444.2 562.0,445.0 562.2,445.7 562.5,446.3 562.7,446.8 563.0,447.1 563.2,447.3 563.5,447.3 563.7,447.3 564.0,447.0 564.2,446.7 564.5,446.2 564.7,445.6 565.0,444.8 565.2,444.0 565.5,443.0 565.7,442.0 566.0,440.9 566.2,439.7 566.5,438.4 566.7,437.1 567.0,435.8 567.2,434.5 567.5,433.1 567.7,431.8 568.0,430.5 568.2,429.2 568.5,428.0 568.7,426.8 569.0,425.8 569.2,424.8 569.5,423.9 569.7,423.1 570.0,422.5 570.2,421.9 570.5,421.5 570.7,421.3 571.0,421.2 571.2,421.2 571.5,421.3 571.7,421.6 572.0,422.0 572.2,422.6 572.5,423.3 572.7,424.1 573.0,425.0 573.2,426.0 573.5,427.0 573.7,428.2 574.0,429.4 574.2,430.7 574.5,432.0 574.7,433.4 575.0,434.7 575.2,436.1 575.5,437.4 575.7,438.7 576.0,439.9 576.2,441.1 576.5,442.2 576.7,443.2 577.0,444.2 577.2,445.0 577.5,445.7 577.7,446.3 578.0,446.8 578.2,447.1 578.5,447.3 578.7,447.3 579.0,447.3 579.2,447.0 579.5,446.7 579.7,446.2 580.0,445.6 580.2,444.8 580.5,444.0 580.7,443.0 581.0,442.0 581.2,440.9 581.5,439.7 581.7,438.4 582.0,437.1 582.2,435.8 582.5,434.5 582.7,433.1 583.0,431.8 583.2,430.5 583.5,429.2 583.7,428.0 584.0,426.8 584.2,425.8 584.5,424.8 584.7,423.9 585.0,423.1 585.2,422.5 585.5,421.9 585.7,421.5 586.0,421.3 586.2,421.2 586.5,421.2 586.7,421.3 587.0,421.6 587.2,422.0 587.5,422.6 587.7,423.3 588.0,424.1 588.2,425.0 588.5,426.0 588.7,427.0 589.0,428.2 589.2,429.4 589.5,430.7 589.7,432.0 590.0,433.4 590.2,434.7 590.5,436.1 590.7,437.4 591.0,438.7 591.2,439.9 591.5,441.1 591.7,442.2 592.0,443.2 592.2,444.2 592.5,445.0 592.7,445.7 593.0,446.3 593.2,446.8 593.5,447.1 593.7,447.3 594.0,447.3 594.2,447.3 594.5,447.0 594.7,446.7 595.0,446.2 595.2,445.6 595.5,444.8 595.7,444.0 596.0,443.0 596.2,442.0 596.5,440.9 596.7,439.7 597.0,438.4 597.2,437.1 597.5,435.8 597.7,434.5 598.0,433.1 598.2,431.8 598.5,430.5 598.7,429.2 599.0,428.0 599.2,426.8 599.5,425.8 599.7,424.8 600.0,423.9 600.2,423.1 600.5,422.5 600.7,421.9 601.0,421.5 601.2,421.3 601.5,421.2 601.7,421.2 602.0,421.3 602.2,421.6 602.5,422.0 602.7,422.6 603.0,423.3 603.2,424.1 603.5,425.0 603.7,426.0 604.0,427.0 604.2,428.2 604.5,429.4 604.7,430.7 605.0,432.0 605.2,433.4 605.5,434.7 605.7,436.1 606.0,437.4 606.2,438.7 606.5,439.9 606.7,441.1 607.0,442.2 607.2,443.2 607.5,444.2 607.7,445.0 608.0,445.7 608.2,446.3 608.5,446.8 608.7,447.1 609.0,447.3 609.2,447.3 609.5,447.3 609.7,447.0 610.0,446.7 610.2,446.2 610.5,445.6 610.7,444.8 611.0,444.0 611.2,443.0 611.5,442.0 611.7,440.9 612.0,439.7 612.2,438.4 612.5,437.1 612.7,435.8 613.0,434.5 613.2,433.1 613.5,431.8 613.7,430.5 614.0,429.2 614.2,428.0 614.5,426.8 614.7,425.8 615.0,424.8 615.2,423.9 615.5,423.1 615.7,422.5 616.0,421.9 616.2,421.5 616.5,421.3 616.7,421.2 617.0,421.2 617.2,421.3 617.5,421.6 617.7,422.0 618.0,422.6 618.2,423.3 618.5,424.1 618.7,425.0 619.0,426.0 619.2,427.0 619.5,428.2 619.7,429.4 620.0,430.7 620.2,432.0 620.5,433.4 620.7,434.7 621.0,436.1 621.2,437.4 621.5,438.7 621.7,439.9 622.0,441.1 622.2,442.2 622.5,443.2 622.7,444.2 623.0,445.0 623.2,445.7 623.5,446.3 623.7,446.8 624.0,447.1 624.2,447.3 624.5,447.3 624.7,447.3 625.0,447.0 625.2,446.7 625.5,446.2 625.7,445.6 626.0,444.8 626.2,444.0 626.5,443.0 626.7,442.0 627.0,440.9 627.2,439.7 627.5,438.4 627.7,437.1 628.0,435.8 628.2,434.5 628.5,433.1 628.7,431.8 629.0,430.5 629.2,429.2 629.5,428.0 629.7,426.8 630.0,425.8 630.2,424.8 630.5,423.9 630.7,423.1 631.0,422.5 631.2,421.9 631.5,421.5 631.7,421.3 632.0,421.2 632.2,421.2 632.5,421.3 632.7,421.6 633.0,422.0 633.2,422.6 633.5,423.3 633.7,424.1 634.0,425.0 634.2,426.0 634.5,427.0 634.7,428.2 635.0,429.4 635.2,430.7 635.5,432.0 635.7,433.4 636.0,434.7 636.2,436.1 636.5,437.4 636.7,438.7 637.0,439.9 637.2,441.1 637.5,442.2 637.7,443.2 638.0,444.2 638.2,445.0 638.5,445.7 638.7,446.3 639.0,446.8 639.2,447.1 639.5,447.3 639.7,447.3 640.0,447.3 640.2,447.0 640.5,446.7 640.7,446.2 641.0,445.6 641.2,444.8 641.5,444.0 641.7,443.0 642.0,442.0 642.2,440.9 642.5,439.7 642.7,438.4 643.0,437.1 643.2,435.8 643.5,434.5 643.7,433.1 644.0,431.8 644.2,430.5 644.5,429.2 644.7,428.0 645.0,426.8 645.2,425.8 645.5,424.8 645.7,423.9 646.0,423.1 646.2,422.5 646.5,421.9 646.7,421.5 647.0,421.3 647.2,421.2 647.5,421.2 647.7,421.3 648.0,421.6 648.2,422.0 648.5,422.6 648.7,423.3 649.0,424.1 649.2,425.0 649.5,426.0 649.7,427.0 650.0,428.2 650.2,429.4 650.5,430.7 650.7,432.0 651.0,433.4 651.1,434.1" fill="none" stroke="#D95319" stroke-width="1.5" stroke-linejoin="round"/>
<line x1="405.1" y1="272.4" x2="650.0" y2="272.4" stroke="#262626" stroke-width="1.35"/>
<line x1="405.1" y1="457.7" x2="650.0" y2="457.7" stroke="#262626" stroke-width="1.35"/>
<line x1="405.1" y1="271.79999999999995" x2="405.1" y2="458.3" stroke="#0676C4" stroke-width="1.35"/>
<line x1="650.0" y1="271.79999999999995" x2="650.0" y2="458.3" stroke="#D95319" stroke-width="1.35"/>
<text transform="translate(404.70,477.00)" class="tk" text-anchor="middle" fill="#262626" stroke="#262626" stroke-width="0.2">0</text>
<line x1="459.34" y1="457.7" x2="459.34" y2="454.7" stroke="#262626" stroke-width="1.4"/>
<line x1="459.34" y1="272.4" x2="459.34" y2="275.4" stroke="#262626" stroke-width="1.4"/>
<text transform="translate(459.34,477.00)" class="tk" text-anchor="middle" fill="#262626" stroke="#262626" stroke-width="0.2">2</text>
<line x1="513.98" y1="457.7" x2="513.98" y2="454.7" stroke="#262626" stroke-width="1.4"/>
<line x1="513.98" y1="272.4" x2="513.98" y2="275.4" stroke="#262626" stroke-width="1.4"/>
<text transform="translate(513.98,477.00)" class="tk" text-anchor="middle" fill="#262626" stroke="#262626" stroke-width="0.2">4</text>
<line x1="568.62" y1="457.7" x2="568.62" y2="454.7" stroke="#262626" stroke-width="1.4"/>
<line x1="568.62" y1="272.4" x2="568.62" y2="275.4" stroke="#262626" stroke-width="1.4"/>
<text transform="translate(568.62,477.00)" class="tk" text-anchor="middle" fill="#262626" stroke="#262626" stroke-width="0.2">6</text>
<line x1="623.26" y1="457.7" x2="623.26" y2="454.7" stroke="#262626" stroke-width="1.4"/>
<line x1="623.26" y1="272.4" x2="623.26" y2="275.4" stroke="#262626" stroke-width="1.4"/>
<text transform="translate(623.26,477.00)" class="tk" text-anchor="middle" fill="#262626" stroke="#262626" stroke-width="0.2">8</text>
<line x1="405.1" y1="437.17" x2="408.1" y2="437.17" stroke="#0676C4" stroke-width="1.4"/>
<text transform="translate(400.10,442.77)" class="tk" text-anchor="end" fill="#0676C4" stroke="#0676C4" stroke-width="0.2">0</text>
<line x1="405.1" y1="409.72" x2="408.1" y2="409.72" stroke="#0676C4" stroke-width="1.4"/>
<text transform="translate(400.10,415.32)" class="tk" text-anchor="end" fill="#0676C4" stroke="#0676C4" stroke-width="0.2">20</text>
<line x1="405.1" y1="382.28" x2="408.1" y2="382.28" stroke="#0676C4" stroke-width="1.4"/>
<text transform="translate(400.10,387.88)" class="tk" text-anchor="end" fill="#0676C4" stroke="#0676C4" stroke-width="0.2">40</text>
<line x1="405.1" y1="354.83" x2="408.1" y2="354.83" stroke="#0676C4" stroke-width="1.4"/>
<text transform="translate(400.10,360.43)" class="tk" text-anchor="end" fill="#0676C4" stroke="#0676C4" stroke-width="0.2">60</text>
<line x1="405.1" y1="327.39" x2="408.1" y2="327.39" stroke="#0676C4" stroke-width="1.4"/>
<text transform="translate(400.10,332.99)" class="tk" text-anchor="end" fill="#0676C4" stroke="#0676C4" stroke-width="0.2">80</text>
<line x1="405.1" y1="299.94" x2="408.1" y2="299.94" stroke="#0676C4" stroke-width="1.4"/>
<text transform="translate(400.10,305.54)" class="tk" text-anchor="end" fill="#0676C4" stroke="#0676C4" stroke-width="0.2">&#x2007;00</text><path transform="translate(376.76,305.54) scale(0.00684,-0.00684)" d="M583,0L583,1147Q518,1085 412,1023Q306,961 223,930L223,1104Q373,1175 485,1276Q597,1377 644,1409L763,1409L763,0Z" fill="#0676C4" stroke="#0676C4" stroke-width="29.3"/>
<line x1="405.1" y1="272.50" x2="408.1" y2="272.50" stroke="#0676C4" stroke-width="1.4"/>
<text transform="translate(400.10,278.10)" class="tk" text-anchor="end" fill="#0676C4" stroke="#0676C4" stroke-width="0.2">&#x2007;20</text><path transform="translate(376.76,278.10) scale(0.00684,-0.00684)" d="M583,0L583,1147Q518,1085 412,1023Q306,961 223,930L223,1104Q373,1175 485,1276Q597,1377 644,1409L763,1409L763,0Z" fill="#0676C4" stroke="#0676C4" stroke-width="29.3"/>
<line x1="650.0" y1="434.59" x2="647.0" y2="434.59" stroke="#D95319" stroke-width="1.4"/>
<text transform="translate(654.60,440.19)" class="tk" fill="#D95319" stroke="#D95319" stroke-width="0.2">0</text>
<line x1="650.0" y1="388.28" x2="647.0" y2="388.28" stroke="#D95319" stroke-width="1.4"/>
<text transform="translate(654.60,393.88)" class="tk" fill="#D95319" stroke="#D95319" stroke-width="0.2">2</text>
<line x1="650.0" y1="341.97" x2="647.0" y2="341.97" stroke="#D95319" stroke-width="1.4"/>
<text transform="translate(654.60,347.57)" class="tk" fill="#D95319" stroke="#D95319" stroke-width="0.2">4</text>
<line x1="650.0" y1="295.66" x2="647.0" y2="295.66" stroke="#D95319" stroke-width="1.4"/>
<text transform="translate(654.60,301.26)" class="tk" fill="#D95319" stroke="#D95319" stroke-width="0.2">6</text>
<text transform="translate(527.64,496.90)" class="xl" text-anchor="middle" fill="#262626" stroke="#262626" stroke-width="0.15">Time (ms)</text>
<text transform="translate(369.10,365.12) rotate(-90)" class="yl" text-anchor="middle" fill="#0676C4">Acceleration (<tspan font-style="italic" font-size="15px" dx="1.0">g</tspan><tspan dx="0.9">)</tspan></text>
<text transform="translate(681.50,365.12) rotate(-90)" class="xl" text-anchor="middle" fill="#D95319" stroke="#D95319" stroke-width="0.15">Displacement (µm)</text>
<text transform="translate(646.80,290.76) scale(1,1.04)" class="th" text-anchor="end" stroke="#262626" stroke-width="0.45">2nd Threshold</text>
<text transform="translate(646.80,360.18) scale(1,1.04)" class="th" text-anchor="end" stroke="#262626" stroke-width="0.45">&#x2007;st Threshold</text><path transform="translate(565.60,360.18) scale(0.00605,-0.00630)" d="M530,0L530,1010Q400,880 190,810L190,1060Q300,1100 430,1200Q560,1300 610,1409L800,1409L800,0Z" fill="#262626" stroke="#262626" stroke-width="74.3"/>
<text transform="translate(405.60,286.30)" class="am" stroke="#ff0000" stroke-width="0.35">108 <tspan font-style="italic">g</tspan></text>
<text transform="translate(404.70,265.20)" class="pl" stroke="#000" stroke-width="0.6">(d)</text>
</g>
</g>
</svg>
</body></html>
